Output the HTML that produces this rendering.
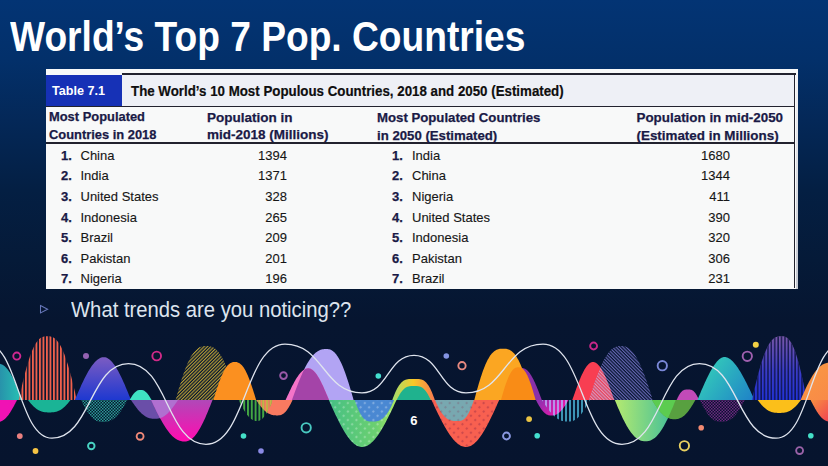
<!DOCTYPE html>
<html><head><meta charset="utf-8"><style>
html,body{margin:0;padding:0;}
body{width:828px;height:466px;overflow:hidden;position:relative;
 background:linear-gradient(180deg,#033474 0px,#03306a 60px,#042858 120px,#041f43 190px,#051a38 260px,#061530 320px,#06142e 466px);
 font-family:"Liberation Sans",sans-serif;}
.t{position:absolute;white-space:nowrap;line-height:1;}
.b{font-weight:bold;}
.title{left:10px;color:#fff;font-size:42px;font-weight:bold;transform-origin:0 0;transform:scaleX(0.8848);}
.photo{position:absolute;left:45.5px;top:68.5px;width:752.5px;height:220px;background:#f8f9f9;}
.nv{color:#1a1a46;-webkit-text-stroke:0.25px #1a1a46;}
.bk{color:#161616;-webkit-text-stroke:0.12px #161616;}
.r{text-align:right;}
.waves{position:absolute;left:0;top:0;}
</style></head><body>
<div class="t title" style="top:16.45px">World’s Top 7 Pop. Countries</div>
<div class="photo"></div>
<div style="position:absolute;left:122px;top:73.3px;width:673.5px;height:1.3px;background:#22222e"></div>
<div style="position:absolute;left:794.2px;top:73.3px;width:1.3px;height:215.2px;background:#22222e"></div>
<div style="position:absolute;left:795.5px;top:74px;width:2.6px;height:214.5px;background:linear-gradient(180deg,#f4f4f6,#c4c8d2)"></div>
<div style="position:absolute;left:46px;top:74.6px;width:76px;height:31.4px;background:#1631b6"></div>
<div style="position:absolute;left:122px;top:74.6px;width:672.2px;height:31.4px;background:#eef0f6"></div>
<div style="position:absolute;left:45.5px;top:105.8px;width:748.7px;height:1.3px;background:#22222e"></div>
<div style="position:absolute;left:45.5px;top:142.3px;width:748.7px;height:1.4px;background:#22222e"></div>
<div class="t b" style="left:52px;top:85.33px;font-size:12.6px;color:#fff">Table 7.1</div>
<div class="t b" style="left:131px;top:84.20px;font-size:14.3px;color:#0e0e0e;-webkit-text-stroke:0.2px #0e0e0e;transform-origin:0 0;transform:scaleX(0.931)">The World’s 10 Most Populous Countries, 2018 and 2050 (Estimated)</div>
<div class="t b nv" style="left:49px;top:111.38px;font-size:12.9px">Most Populated</div>
<div class="t b nv" style="left:49px;top:128.98px;font-size:12.9px">Countries in 2018</div>
<div class="t b nv" style="left:207px;top:110.87px;font-size:13.5px">Population in</div>
<div class="t b nv" style="left:207px;top:128.47px;font-size:13.5px">mid-2018 (Millions)</div>
<div class="t b nv" style="left:377px;top:111.13px;font-size:13.2px">Most Populated Countries</div>
<div class="t b nv" style="left:377px;top:128.73px;font-size:13.2px">in 2050 (Estimated)</div>
<div class="t b nv" style="left:636.5px;top:110.96px;font-size:13.4px">Population in mid-2050</div>
<div class="t b nv" style="left:636.5px;top:128.56px;font-size:13.4px">(Estimated in Millions)</div>
<div class="t b nv" style="left:61px;top:148.80px;font-size:13px">1.</div>
<div class="t bk" style="left:80.5px;top:148.80px;font-size:13px">China</div>
<div class="t bk r" style="right:541.0px;top:148.80px;font-size:13px">1394</div>
<div class="t b nv" style="left:392px;top:148.80px;font-size:13px">1.</div>
<div class="t bk" style="left:412px;top:148.80px;font-size:13px">India</div>
<div class="t bk r" style="right:98.0px;top:148.80px;font-size:13px">1680</div>
<div class="t b nv" style="left:61px;top:169.40px;font-size:13px">2.</div>
<div class="t bk" style="left:80.5px;top:169.40px;font-size:13px">India</div>
<div class="t bk r" style="right:541.0px;top:169.40px;font-size:13px">1371</div>
<div class="t b nv" style="left:392px;top:169.40px;font-size:13px">2.</div>
<div class="t bk" style="left:412px;top:169.40px;font-size:13px">China</div>
<div class="t bk r" style="right:98.0px;top:169.40px;font-size:13px">1344</div>
<div class="t b nv" style="left:61px;top:190.00px;font-size:13px">3.</div>
<div class="t bk" style="left:80.5px;top:190.00px;font-size:13px">United States</div>
<div class="t bk r" style="right:541.0px;top:190.00px;font-size:13px">328</div>
<div class="t b nv" style="left:392px;top:190.00px;font-size:13px">3.</div>
<div class="t bk" style="left:412px;top:190.00px;font-size:13px">Nigeria</div>
<div class="t bk r" style="right:98.0px;top:190.00px;font-size:13px">411</div>
<div class="t b nv" style="left:61px;top:210.60px;font-size:13px">4.</div>
<div class="t bk" style="left:80.5px;top:210.60px;font-size:13px">Indonesia</div>
<div class="t bk r" style="right:541.0px;top:210.60px;font-size:13px">265</div>
<div class="t b nv" style="left:392px;top:210.60px;font-size:13px">4.</div>
<div class="t bk" style="left:412px;top:210.60px;font-size:13px">United States</div>
<div class="t bk r" style="right:98.0px;top:210.60px;font-size:13px">390</div>
<div class="t b nv" style="left:61px;top:231.20px;font-size:13px">5.</div>
<div class="t bk" style="left:80.5px;top:231.20px;font-size:13px">Brazil</div>
<div class="t bk r" style="right:541.0px;top:231.20px;font-size:13px">209</div>
<div class="t b nv" style="left:392px;top:231.20px;font-size:13px">5.</div>
<div class="t bk" style="left:412px;top:231.20px;font-size:13px">Indonesia</div>
<div class="t bk r" style="right:98.0px;top:231.20px;font-size:13px">320</div>
<div class="t b nv" style="left:61px;top:251.80px;font-size:13px">6.</div>
<div class="t bk" style="left:80.5px;top:251.80px;font-size:13px">Pakistan</div>
<div class="t bk r" style="right:541.0px;top:251.80px;font-size:13px">201</div>
<div class="t b nv" style="left:392px;top:251.80px;font-size:13px">6.</div>
<div class="t bk" style="left:412px;top:251.80px;font-size:13px">Pakistan</div>
<div class="t bk r" style="right:98.0px;top:251.80px;font-size:13px">306</div>
<div class="t b nv" style="left:61px;top:272.40px;font-size:13px">7.</div>
<div class="t bk" style="left:80.5px;top:272.40px;font-size:13px">Nigeria</div>
<div class="t bk r" style="right:541.0px;top:272.40px;font-size:13px">196</div>
<div class="t b nv" style="left:392px;top:272.40px;font-size:13px">7.</div>
<div class="t bk" style="left:412px;top:272.40px;font-size:13px">Brazil</div>
<div class="t bk r" style="right:98.0px;top:272.40px;font-size:13px">231</div>
<svg style="position:absolute;left:0;top:0" width="828" height="330"><path d="M40.5,305.5 L47.6,309.2 L40.5,312.9 Z" fill="none" stroke="#6676b8" stroke-width="1.05"/></svg>
<div class="t" style="left:71px;top:299.25px;font-size:22.5px;color:#dde4ee;transform-origin:0 0;transform:scaleX(0.9)">What trends are you noticing??</div>
<svg class="waves" width="828" height="466" viewBox="0 0 828 466"><defs>
 <linearGradient id="gBlueV" x1="0" y1="336" x2="0" y2="400" gradientUnits="userSpaceOnUse"><stop offset="0" stop-color="#7a58a8"/><stop offset="0.55" stop-color="#3a3cc8"/><stop offset="1" stop-color="#2232d8"/></linearGradient>
 <pattern id="vRed" width="3.5" height="8" patternUnits="userSpaceOnUse" x="0.5"><rect x="0" y="0" width="1.9" height="8" fill="#f0604c"/></pattern>
 <pattern id="vBlueGap" width="3.4" height="8" patternUnits="userSpaceOnUse" x="0.3"><rect x="1.9" y="0" width="1.5" height="8" fill="#0a1240" fill-opacity="0.85"/></pattern>
 <pattern id="vGreen" width="3.8" height="8" patternUnits="userSpaceOnUse"><rect x="0" y="0" width="2" height="8" fill="#43a843"/></pattern>
 <pattern id="vGreenO" width="3.8" height="8" patternUnits="userSpaceOnUse"><rect x="0" y="0" width="2" height="8" fill="#c8b048"/></pattern>
 <pattern id="vLBlue" width="4" height="8" patternUnits="userSpaceOnUse" x="1"><rect x="0" y="0" width="2" height="8" fill="#3d94b4"/></pattern>
 <pattern id="vLBlueM" width="4" height="8" patternUnits="userSpaceOnUse" x="1"><rect x="0" y="0" width="2" height="8" fill="#b890e8"/></pattern>
 <pattern id="dYel" width="2.4" height="2.4" patternUnits="userSpaceOnUse" patternTransform="rotate(45)"><rect x="0" y="0" width="1.15" height="2.4" fill="#b49c36"/></pattern>
 <pattern id="dNavy" width="2.4" height="2.4" patternUnits="userSpaceOnUse" patternTransform="rotate(-45)"><rect x="0" y="0" width="1.15" height="2.4" fill="#6666b4"/></pattern>
 <pattern id="dNavyR" width="2.4" height="2.4" patternUnits="userSpaceOnUse" patternTransform="rotate(-45)"><rect x="0" y="0" width="1.15" height="2.4" fill="#f490a8"/></pattern>
 <pattern id="dotTeal" width="3" height="3" patternUnits="userSpaceOnUse"><rect x="0" y="0" width="1.5" height="1.5" fill="#2a9c94"/><rect x="1.5" y="1.5" width="1.5" height="1.5" fill="#2a9c94"/></pattern>
 <pattern id="dotMag" width="3" height="3" patternUnits="userSpaceOnUse"><rect x="0" y="0" width="1.5" height="1.5" fill="#6e2680"/><rect x="1.5" y="1.5" width="1.5" height="1.5" fill="#6e2680"/></pattern>
 <linearGradient id="gTealL" x1="-25" y1="0" x2="22" y2="0" gradientUnits="userSpaceOnUse"><stop offset="0" stop-color="#2a5aa0"/><stop offset="1" stop-color="#26c4b4"/></linearGradient>
 <linearGradient id="gPurBlue" x1="0" y1="357" x2="0" y2="400" gradientUnits="userSpaceOnUse"><stop offset="0" stop-color="#7c5cc2"/><stop offset="1" stop-color="#1e38d0"/></linearGradient>
 <linearGradient id="gMag" x1="0" y1="400" x2="0" y2="441" gradientUnits="userSpaceOnUse"><stop offset="0" stop-color="#b048b8"/><stop offset="1" stop-color="#ff0cb0"/></linearGradient>
 <linearGradient id="gMag2" x1="540" y1="400" x2="560" y2="416" gradientUnits="userSpaceOnUse"><stop offset="0" stop-color="#9030b0"/><stop offset="1" stop-color="#f414aa"/></linearGradient>
 <linearGradient id="gGreenDot" x1="329" y1="0" x2="397" y2="0" gradientUnits="userSpaceOnUse"><stop offset="0" stop-color="#46c084"/><stop offset="0.7" stop-color="#6cd070"/><stop offset="1" stop-color="#b0ec60"/></linearGradient>
 <linearGradient id="gGreenR" x1="615" y1="0" x2="676" y2="0" gradientUnits="userSpaceOnUse"><stop offset="0" stop-color="#b4ea70"/><stop offset="1" stop-color="#3cbc9c"/></linearGradient>
 <linearGradient id="gTealR" x1="700" y1="360" x2="755" y2="400" gradientUnits="userSpaceOnUse"><stop offset="0" stop-color="#36d4b8"/><stop offset="1" stop-color="#1e80c8"/></linearGradient>
 <linearGradient id="gYG" x1="392" y1="0" x2="435" y2="0" gradientUnits="userSpaceOnUse"><stop offset="0" stop-color="#a0e070"/><stop offset="0.5" stop-color="#f8c828"/><stop offset="1" stop-color="#f87850"/></linearGradient>
 <linearGradient id="gCoralR" x1="810" y1="400" x2="830" y2="420" gradientUnits="userSpaceOnUse"><stop offset="0" stop-color="#f89040"/><stop offset="1" stop-color="#f04452"/></linearGradient>
 <linearGradient id="gOrR" x1="800" y1="360" x2="830" y2="400" gradientUnits="userSpaceOnUse"><stop offset="0" stop-color="#fa9a42"/><stop offset="1" stop-color="#f88a48"/></linearGradient>
 <pattern id="dotLight" width="6" height="6" patternUnits="userSpaceOnUse" patternTransform="rotate(45)"><circle cx="3" cy="3" r="1.2" fill="#ffffff" fill-opacity="0.28"/></pattern>
 <pattern id="dotDark" width="6" height="6" patternUnits="userSpaceOnUse" patternTransform="rotate(45)"><circle cx="3" cy="3" r="1.2" fill="#802040" fill-opacity="0.35"/></pattern>
 <clipPath id="cLav"><path d="M292.00,400.00 L292.95,397.34 L293.91,394.70 L294.86,392.09 L295.81,389.52 L296.76,386.99 L297.72,384.51 L298.67,382.08 L299.62,379.72 L300.57,377.42 L301.53,375.20 L302.48,373.05 L303.43,370.99 L304.39,369.00 L305.34,367.11 L306.29,365.31 L307.24,363.60 L308.20,361.98 L309.15,360.46 L310.10,359.04 L311.06,357.72 L312.01,356.50 L312.96,355.38 L313.91,354.36 L314.87,353.44 L315.82,352.61 L316.77,351.88 L317.73,351.24 L318.68,350.69 L319.63,350.23 L320.58,349.85 L321.54,349.55 L322.49,349.32 L323.44,349.16 L324.39,349.06 L325.35,349.01 L326.30,349.00 L327.06,349.01 L327.82,349.06 L328.57,349.16 L329.33,349.32 L330.09,349.55 L330.85,349.85 L331.61,350.23 L332.37,350.69 L333.12,351.24 L333.88,351.88 L334.64,352.61 L335.40,353.44 L336.16,354.36 L336.92,355.38 L337.68,356.50 L338.43,357.72 L339.19,359.04 L339.95,360.46 L340.71,361.98 L341.47,363.60 L342.23,365.31 L342.98,367.11 L343.74,369.00 L344.50,370.99 L345.26,373.05 L346.02,375.20 L346.78,377.42 L347.53,379.72 L348.29,382.08 L349.05,384.51 L349.81,386.99 L350.57,389.52 L351.33,392.09 L352.08,394.70 L352.84,397.34 L353.60,400.00 Z"/></clipPath>
 <clipPath id="cRed"><path d="M572.30,400.00 L572.88,398.34 L573.45,396.69 L574.02,395.04 L574.60,393.40 L575.17,391.78 L575.75,390.16 L576.32,388.57 L576.90,387.00 L577.47,385.46 L578.05,383.94 L578.62,382.45 L579.20,381.00 L579.77,379.58 L580.35,378.20 L580.92,376.87 L581.50,375.57 L582.07,374.33 L582.65,373.13 L583.23,371.98 L583.80,370.89 L584.38,369.85 L584.95,368.87 L585.52,367.95 L586.10,367.09 L586.67,366.29 L587.25,365.56 L587.83,364.89 L588.40,364.29 L588.98,363.76 L589.55,363.29 L590.12,362.90 L590.70,362.58 L591.27,362.33 L591.85,362.14 L592.42,362.04 L593.00,362.00 L593.59,362.04 L594.18,362.14 L594.77,362.33 L595.36,362.58 L595.94,362.90 L596.53,363.29 L597.12,363.76 L597.71,364.29 L598.30,364.89 L598.89,365.56 L599.48,366.29 L600.07,367.09 L600.66,367.95 L601.24,368.87 L601.83,369.85 L602.42,370.89 L603.01,371.98 L603.60,373.13 L604.19,374.33 L604.78,375.57 L605.37,376.87 L605.96,378.20 L606.54,379.58 L607.13,381.00 L607.72,382.45 L608.31,383.94 L608.90,385.46 L609.49,387.00 L610.08,388.57 L610.67,390.16 L611.26,391.78 L611.84,393.40 L612.43,395.04 L613.02,396.69 L613.61,398.34 L614.20,400.00 Z"/></clipPath>
 <clipPath id="cSal"><path d="M256.20,400.00 L256.79,400.87 L257.37,401.73 L257.96,402.58 L258.54,403.41 L259.13,404.22 L259.72,405.01 L260.30,405.78 L260.89,406.53 L261.48,407.25 L262.06,407.94 L262.65,408.61 L263.23,409.24 L263.82,409.84 L264.41,410.41 L264.99,410.95 L265.58,411.46 L266.16,411.93 L266.75,412.37 L267.34,412.78 L267.92,413.15 L268.51,413.49 L269.09,413.80 L269.68,414.07 L270.27,414.32 L270.85,414.54 L271.44,414.73 L272.02,414.89 L272.61,415.02 L273.20,415.13 L273.78,415.22 L274.37,415.29 L274.96,415.34 L275.54,415.37 L276.13,415.39 L276.71,415.40 L277.30,415.40 L277.73,415.40 L278.15,415.39 L278.57,415.37 L279.00,415.34 L279.43,415.29 L279.85,415.22 L280.28,415.13 L280.70,415.02 L281.12,414.89 L281.55,414.73 L281.98,414.54 L282.40,414.32 L282.82,414.07 L283.25,413.80 L283.68,413.49 L284.10,413.15 L284.53,412.78 L284.95,412.37 L285.38,411.93 L285.80,411.46 L286.23,410.95 L286.65,410.41 L287.08,409.84 L287.50,409.24 L287.93,408.61 L288.35,407.94 L288.78,407.25 L289.20,406.53 L289.62,405.78 L290.05,405.01 L290.48,404.22 L290.90,403.41 L291.33,402.58 L291.75,401.73 L292.18,400.87 L292.60,400.00 Z"/></clipPath>
 <clipPath id="cMag2"><path d="M535.90,400.00 L536.33,400.81 L536.76,401.61 L537.18,402.40 L537.61,403.19 L538.04,403.96 L538.47,404.71 L538.89,405.45 L539.32,406.16 L539.75,406.86 L540.18,407.54 L540.61,408.19 L541.03,408.82 L541.46,409.42 L541.89,410.00 L542.32,410.54 L542.74,411.06 L543.17,411.55 L543.60,412.02 L544.03,412.45 L544.46,412.85 L544.88,413.22 L545.31,413.56 L545.74,413.87 L546.17,414.15 L546.59,414.40 L547.02,414.62 L547.45,414.82 L547.88,414.99 L548.31,415.13 L548.73,415.24 L549.16,415.33 L549.59,415.40 L550.02,415.45 L550.44,415.48 L550.87,415.50 L551.30,415.50 L551.78,415.50 L552.26,415.48 L552.73,415.45 L553.21,415.40 L553.69,415.33 L554.17,415.24 L554.64,415.13 L555.12,414.99 L555.60,414.82 L556.08,414.62 L556.56,414.40 L557.03,414.15 L557.51,413.87 L557.99,413.56 L558.47,413.22 L558.94,412.85 L559.42,412.45 L559.90,412.02 L560.38,411.55 L560.86,411.06 L561.33,410.54 L561.81,410.00 L562.29,409.42 L562.77,408.82 L563.24,408.19 L563.72,407.54 L564.20,406.86 L564.68,406.16 L565.16,405.45 L565.63,404.71 L566.11,403.96 L566.59,403.19 L567.07,402.40 L567.54,401.61 L568.02,400.81 L568.50,400.00 Z"/></clipPath>
 <clipPath id="cGbig"><path d="M614.80,400.00 L615.65,402.06 L616.51,404.11 L617.36,406.14 L618.21,408.14 L619.06,410.12 L619.92,412.06 L620.77,413.97 L621.62,415.83 L622.47,417.64 L623.33,419.40 L624.18,421.11 L625.03,422.76 L625.89,424.35 L626.74,425.88 L627.59,427.34 L628.44,428.73 L629.30,430.05 L630.15,431.30 L631.00,432.48 L631.86,433.58 L632.71,434.60 L633.56,435.54 L634.41,436.41 L635.27,437.20 L636.12,437.92 L636.97,438.56 L637.83,439.12 L638.68,439.61 L639.53,440.03 L640.38,440.38 L641.24,440.66 L642.09,440.88 L642.94,441.03 L643.79,441.13 L644.65,441.19 L645.50,441.20 L646.34,441.19 L647.18,441.13 L648.02,441.03 L648.86,440.88 L649.69,440.66 L650.53,440.38 L651.37,440.03 L652.21,439.61 L653.05,439.12 L653.89,438.56 L654.73,437.92 L655.57,437.20 L656.41,436.41 L657.24,435.54 L658.08,434.60 L658.92,433.58 L659.76,432.48 L660.60,431.30 L661.44,430.05 L662.28,428.73 L663.12,427.34 L663.96,425.88 L664.79,424.35 L665.63,422.76 L666.47,421.11 L667.31,419.40 L668.15,417.64 L668.99,415.83 L669.83,413.97 L670.67,412.06 L671.51,410.12 L672.34,408.14 L673.18,406.14 L674.02,404.11 L674.86,402.06 L675.70,400.00 Z"/></clipPath>
 <clipPath id="cPur"><path d="M131.00,400.00 L131.66,400.98 L132.32,401.95 L132.97,402.92 L133.63,403.86 L134.29,404.80 L134.95,405.71 L135.61,406.60 L136.27,407.48 L136.93,408.32 L137.58,409.14 L138.24,409.93 L138.90,410.70 L139.56,411.43 L140.22,412.12 L140.88,412.79 L141.53,413.42 L142.19,414.01 L142.85,414.57 L143.51,415.10 L144.17,415.58 L144.82,416.03 L145.48,416.45 L146.14,416.82 L146.80,417.16 L147.46,417.47 L148.12,417.74 L148.77,417.97 L149.43,418.18 L150.09,418.35 L150.75,418.49 L151.41,418.60 L152.07,418.68 L152.72,418.74 L153.38,418.78 L154.04,418.80 L154.70,418.80 L155.35,418.80 L155.99,418.78 L156.64,418.74 L157.29,418.68 L157.94,418.60 L158.58,418.49 L159.23,418.35 L159.88,418.18 L160.52,417.97 L161.17,417.74 L161.82,417.47 L162.47,417.16 L163.11,416.82 L163.76,416.45 L164.41,416.03 L165.06,415.58 L165.70,415.10 L166.35,414.57 L167.00,414.01 L167.64,413.42 L168.29,412.79 L168.94,412.12 L169.59,411.43 L170.23,410.70 L170.88,409.93 L171.53,409.14 L172.18,408.32 L172.82,407.48 L173.47,406.60 L174.12,405.71 L174.76,404.80 L175.41,403.86 L176.06,402.92 L176.71,401.95 L177.35,400.98 L178.00,400.00 Z"/></clipPath>
</defs>
<path d="M-28.00,400.00 L-27.31,398.17 L-26.61,396.35 L-25.92,394.55 L-25.22,392.77 L-24.53,391.01 L-23.83,389.28 L-23.14,387.59 L-22.44,385.94 L-21.75,384.33 L-21.06,382.76 L-20.36,381.24 L-19.67,379.78 L-18.97,378.36 L-18.28,377.01 L-17.58,375.71 L-16.89,374.47 L-16.19,373.30 L-15.50,372.19 L-14.81,371.15 L-14.11,370.17 L-13.42,369.26 L-12.72,368.42 L-12.03,367.65 L-11.33,366.95 L-10.64,366.31 L-9.94,365.75 L-9.25,365.25 L-8.56,364.81 L-7.86,364.44 L-7.17,364.13 L-6.47,363.88 L-5.78,363.69 L-5.08,363.55 L-4.39,363.46 L-3.69,363.41 L-3.00,363.40 L-2.30,363.41 L-1.59,363.46 L-0.89,363.55 L-0.19,363.69 L0.51,363.88 L1.22,364.13 L1.92,364.44 L2.62,364.81 L3.33,365.25 L4.03,365.75 L4.73,366.31 L5.43,366.95 L6.14,367.65 L6.84,368.42 L7.54,369.26 L8.24,370.17 L8.95,371.15 L9.65,372.19 L10.35,373.30 L11.06,374.47 L11.76,375.71 L12.46,377.01 L13.16,378.36 L13.87,379.78 L14.57,381.24 L15.27,382.76 L15.98,384.33 L16.68,385.94 L17.38,387.59 L18.08,389.28 L18.79,391.01 L19.49,392.77 L20.19,394.55 L20.89,396.35 L21.60,398.17 L22.30,400.00 Z" fill="url(#gTealL)" />
<path d="M18.75,400.00 L19.54,396.40 L20.33,392.84 L21.12,389.33 L21.91,385.89 L22.70,382.52 L23.49,379.24 L24.28,376.04 L25.07,372.95 L25.86,369.97 L26.65,367.10 L27.44,364.35 L28.23,361.72 L29.02,359.22 L29.81,356.85 L30.60,354.62 L31.39,352.53 L32.18,350.57 L32.98,348.75 L33.77,347.07 L34.56,345.52 L35.35,344.11 L36.14,342.84 L36.93,341.69 L37.72,340.67 L38.51,339.77 L39.30,339.00 L40.09,338.33 L40.88,337.77 L41.67,337.31 L42.46,336.94 L43.25,336.66 L44.04,336.46 L44.83,336.32 L45.62,336.24 L46.41,336.21 L47.20,336.20 L48.02,336.21 L48.84,336.24 L49.67,336.32 L50.49,336.46 L51.31,336.66 L52.13,336.94 L52.96,337.31 L53.78,337.77 L54.60,338.33 L55.42,339.00 L56.24,339.77 L57.07,340.67 L57.89,341.69 L58.71,342.84 L59.53,344.11 L60.36,345.52 L61.18,347.07 L62.00,348.75 L62.82,350.57 L63.64,352.53 L64.47,354.62 L65.29,356.85 L66.11,359.22 L66.93,361.72 L67.76,364.35 L68.58,367.10 L69.40,369.97 L70.22,372.95 L71.04,376.04 L71.87,379.24 L72.69,382.52 L73.51,385.89 L74.33,389.33 L75.16,392.84 L75.98,396.40 L76.80,400.00 Z" fill="url(#vRed)" />
<path d="M74.80,400.00 L75.61,398.13 L76.41,396.27 L77.22,394.41 L78.02,392.57 L78.83,390.74 L79.63,388.92 L80.44,387.13 L81.24,385.36 L82.05,383.62 L82.86,381.91 L83.66,380.24 L84.47,378.60 L85.27,377.00 L86.08,375.45 L86.88,373.95 L87.69,372.49 L88.49,371.08 L89.30,369.74 L90.11,368.44 L90.91,367.21 L91.72,366.04 L92.52,364.94 L93.33,363.90 L94.13,362.93 L94.94,362.04 L95.74,361.21 L96.55,360.46 L97.36,359.78 L98.16,359.18 L98.97,358.66 L99.77,358.21 L100.58,357.85 L101.38,357.57 L102.19,357.36 L102.99,357.24 L103.80,357.20 L104.56,357.24 L105.31,357.36 L106.07,357.57 L106.82,357.85 L107.58,358.21 L108.33,358.66 L109.09,359.18 L109.84,359.78 L110.60,360.46 L111.36,361.21 L112.11,362.04 L112.87,362.93 L113.62,363.90 L114.38,364.94 L115.13,366.04 L115.89,367.21 L116.64,368.44 L117.40,369.74 L118.16,371.08 L118.91,372.49 L119.67,373.95 L120.42,375.45 L121.18,377.00 L121.93,378.60 L122.69,380.24 L123.44,381.91 L124.20,383.62 L124.96,385.36 L125.71,387.13 L126.47,388.92 L127.22,390.74 L127.98,392.57 L128.73,394.41 L129.49,396.27 L130.24,398.13 L131.00,400.00 Z" fill="url(#gPurBlue)" />
<path d="M129.60,400.00 L129.91,399.47 L130.21,398.95 L130.52,398.43 L130.82,397.92 L131.13,397.42 L131.43,396.93 L131.74,396.45 L132.04,395.98 L132.35,395.53 L132.66,395.09 L132.96,394.66 L133.27,394.25 L133.57,393.86 L133.88,393.49 L134.18,393.13 L134.49,392.79 L134.79,392.47 L135.10,392.17 L135.41,391.89 L135.71,391.63 L136.02,391.39 L136.32,391.16 L136.63,390.96 L136.93,390.78 L137.24,390.62 L137.54,390.47 L137.85,390.34 L138.16,390.24 L138.46,390.14 L138.77,390.07 L139.07,390.01 L139.38,389.96 L139.68,389.93 L139.99,389.91 L140.29,389.90 L140.60,389.90 L140.91,389.90 L141.21,389.91 L141.52,389.93 L141.82,389.96 L142.13,390.01 L142.43,390.07 L142.74,390.14 L143.04,390.24 L143.35,390.34 L143.66,390.47 L143.96,390.62 L144.27,390.78 L144.57,390.96 L144.88,391.16 L145.18,391.39 L145.49,391.63 L145.79,391.89 L146.10,392.17 L146.41,392.47 L146.71,392.79 L147.02,393.13 L147.32,393.49 L147.63,393.86 L147.93,394.25 L148.24,394.66 L148.54,395.09 L148.85,395.53 L149.16,395.98 L149.46,396.45 L149.77,396.93 L150.07,397.42 L150.38,397.92 L150.68,398.43 L150.99,398.95 L151.29,399.47 L151.60,400.00 Z" fill="#3fe2c2" />
<path d="M175.60,400.00 L176.45,396.95 L177.30,393.94 L178.15,390.97 L179.00,388.06 L179.85,385.21 L180.70,382.43 L181.55,379.72 L182.40,377.11 L183.25,374.58 L184.10,372.15 L184.95,369.82 L185.80,367.60 L186.65,365.48 L187.50,363.48 L188.35,361.59 L189.20,359.82 L190.05,358.16 L190.90,356.62 L191.75,355.20 L192.60,353.89 L193.45,352.70 L194.30,351.62 L195.15,350.65 L196.00,349.78 L196.85,349.03 L197.70,348.37 L198.55,347.80 L199.40,347.33 L200.25,346.94 L201.10,346.63 L201.95,346.39 L202.80,346.22 L203.65,346.10 L204.50,346.04 L205.35,346.01 L206.20,346.00 L207.05,346.01 L207.90,346.04 L208.75,346.10 L209.60,346.22 L210.45,346.39 L211.30,346.63 L212.15,346.94 L213.00,347.33 L213.85,347.80 L214.70,348.37 L215.55,349.03 L216.40,349.78 L217.25,350.65 L218.10,351.62 L218.95,352.70 L219.80,353.89 L220.65,355.20 L221.50,356.62 L222.35,358.16 L223.20,359.82 L224.05,361.59 L224.90,363.48 L225.75,365.48 L226.60,367.60 L227.45,369.82 L228.30,372.15 L229.15,374.58 L230.00,377.11 L230.85,379.72 L231.70,382.43 L232.55,385.21 L233.40,388.06 L234.25,390.97 L235.10,393.94 L235.95,396.95 L236.80,400.00 Z" fill="url(#dYel)" />
<path d="M213.50,400.00 L214.09,398.02 L214.68,396.05 L215.28,394.11 L215.87,392.19 L216.46,390.30 L217.05,388.46 L217.64,386.65 L218.23,384.89 L218.82,383.18 L219.42,381.52 L220.01,379.92 L220.60,378.38 L221.19,376.90 L221.78,375.49 L222.38,374.15 L222.97,372.88 L223.56,371.67 L224.15,370.54 L224.74,369.48 L225.33,368.50 L225.93,367.59 L226.52,366.76 L227.11,366.00 L227.70,365.31 L228.29,364.69 L228.88,364.15 L229.48,363.67 L230.07,363.26 L230.66,362.92 L231.25,362.63 L231.84,362.41 L232.43,362.24 L233.03,362.12 L233.62,362.05 L234.21,362.01 L234.80,362.00 L235.39,362.01 L235.98,362.05 L236.58,362.12 L237.17,362.24 L237.76,362.41 L238.35,362.63 L238.94,362.92 L239.53,363.26 L240.12,363.67 L240.72,364.15 L241.31,364.69 L241.90,365.31 L242.49,366.00 L243.08,366.76 L243.68,367.59 L244.27,368.50 L244.86,369.48 L245.45,370.54 L246.04,371.67 L246.63,372.88 L247.23,374.15 L247.82,375.49 L248.41,376.90 L249.00,378.38 L249.59,379.92 L250.18,381.52 L250.78,383.18 L251.37,384.89 L251.96,386.65 L252.55,388.46 L253.14,390.30 L253.73,392.19 L254.33,394.11 L254.92,396.05 L255.51,398.02 L256.10,400.00 Z" fill="#fb9020" />
<path d="M292.00,400.00 L292.95,397.34 L293.91,394.70 L294.86,392.09 L295.81,389.52 L296.76,386.99 L297.72,384.51 L298.67,382.08 L299.62,379.72 L300.57,377.42 L301.53,375.20 L302.48,373.05 L303.43,370.99 L304.39,369.00 L305.34,367.11 L306.29,365.31 L307.24,363.60 L308.20,361.98 L309.15,360.46 L310.10,359.04 L311.06,357.72 L312.01,356.50 L312.96,355.38 L313.91,354.36 L314.87,353.44 L315.82,352.61 L316.77,351.88 L317.73,351.24 L318.68,350.69 L319.63,350.23 L320.58,349.85 L321.54,349.55 L322.49,349.32 L323.44,349.16 L324.39,349.06 L325.35,349.01 L326.30,349.00 L327.06,349.01 L327.82,349.06 L328.57,349.16 L329.33,349.32 L330.09,349.55 L330.85,349.85 L331.61,350.23 L332.37,350.69 L333.12,351.24 L333.88,351.88 L334.64,352.61 L335.40,353.44 L336.16,354.36 L336.92,355.38 L337.68,356.50 L338.43,357.72 L339.19,359.04 L339.95,360.46 L340.71,361.98 L341.47,363.60 L342.23,365.31 L342.98,367.11 L343.74,369.00 L344.50,370.99 L345.26,373.05 L346.02,375.20 L346.78,377.42 L347.53,379.72 L348.29,382.08 L349.05,384.51 L349.81,386.99 L350.57,389.52 L351.33,392.09 L352.08,394.70 L352.84,397.34 L353.60,400.00 Z" fill="#b2a4f4" />
<path d="M285.60,400.00 L286.23,398.62 L286.86,397.24 L287.49,395.86 L288.12,394.50 L288.75,393.14 L289.38,391.80 L290.01,390.47 L290.64,389.16 L291.28,387.87 L291.91,386.60 L292.54,385.36 L293.17,384.15 L293.80,382.97 L294.43,381.82 L295.06,380.70 L295.69,379.62 L296.32,378.58 L296.95,377.58 L297.58,376.63 L298.21,375.72 L298.84,374.85 L299.47,374.03 L300.10,373.26 L300.73,372.55 L301.36,371.88 L301.99,371.27 L302.62,370.71 L303.26,370.21 L303.89,369.77 L304.52,369.38 L305.15,369.05 L305.78,368.78 L306.41,368.57 L307.04,368.42 L307.67,368.33 L308.30,368.30 L308.88,368.33 L309.45,368.42 L310.03,368.57 L310.60,368.78 L311.18,369.05 L311.75,369.38 L312.32,369.77 L312.90,370.21 L313.48,370.71 L314.05,371.27 L314.62,371.88 L315.20,372.55 L315.78,373.26 L316.35,374.03 L316.93,374.85 L317.50,375.72 L318.07,376.63 L318.65,377.58 L319.23,378.58 L319.80,379.62 L320.38,380.70 L320.95,381.82 L321.52,382.97 L322.10,384.15 L322.68,385.36 L323.25,386.60 L323.82,387.87 L324.40,389.16 L324.98,390.47 L325.55,391.80 L326.12,393.14 L326.70,394.50 L327.27,395.86 L327.85,397.24 L328.43,398.62 L329.00,400.00 Z" fill="#f474c8" />
<path d="M285.60,400.00 L286.23,398.62 L286.86,397.24 L287.49,395.86 L288.12,394.50 L288.75,393.14 L289.38,391.80 L290.01,390.47 L290.64,389.16 L291.28,387.87 L291.91,386.60 L292.54,385.36 L293.17,384.15 L293.80,382.97 L294.43,381.82 L295.06,380.70 L295.69,379.62 L296.32,378.58 L296.95,377.58 L297.58,376.63 L298.21,375.72 L298.84,374.85 L299.47,374.03 L300.10,373.26 L300.73,372.55 L301.36,371.88 L301.99,371.27 L302.62,370.71 L303.26,370.21 L303.89,369.77 L304.52,369.38 L305.15,369.05 L305.78,368.78 L306.41,368.57 L307.04,368.42 L307.67,368.33 L308.30,368.30 L308.88,368.33 L309.45,368.42 L310.03,368.57 L310.60,368.78 L311.18,369.05 L311.75,369.38 L312.32,369.77 L312.90,370.21 L313.48,370.71 L314.05,371.27 L314.62,371.88 L315.20,372.55 L315.78,373.26 L316.35,374.03 L316.93,374.85 L317.50,375.72 L318.07,376.63 L318.65,377.58 L319.23,378.58 L319.80,379.62 L320.38,380.70 L320.95,381.82 L321.52,382.97 L322.10,384.15 L322.68,385.36 L323.25,386.60 L323.82,387.87 L324.40,389.16 L324.98,390.47 L325.55,391.80 L326.12,393.14 L326.70,394.50 L327.27,395.86 L327.85,397.24 L328.43,398.62 L329.00,400.00 Z" fill="#a444a8" clip-path="url(#cLav)"/>
<path d="M392.30,400.00 L392.91,398.36 L393.51,396.77 L394.12,395.24 L394.72,393.76 L395.33,392.36 L395.93,391.02 L396.54,389.77 L397.14,388.59 L397.75,387.49 L398.36,386.47 L398.96,385.53 L399.57,384.66 L400.17,383.88 L400.78,383.17 L401.38,382.53 L401.99,381.96 L402.59,381.45 L403.20,381.01 L403.81,380.62 L404.41,380.29 L405.02,380.00 L405.62,379.76 L406.23,379.56 L406.83,379.40 L407.44,379.26 L408.04,379.16 L408.65,379.08 L409.26,379.02 L409.86,378.97 L410.47,378.94 L411.07,378.92 L411.68,378.91 L412.28,378.90 L412.89,378.90 L413.49,378.90 L414.10,378.90 L414.68,378.90 L415.25,378.90 L415.83,378.90 L416.40,378.91 L416.98,378.92 L417.55,378.94 L418.12,378.97 L418.70,379.02 L419.28,379.08 L419.85,379.16 L420.43,379.26 L421.00,379.40 L421.58,379.56 L422.15,379.76 L422.73,380.00 L423.30,380.29 L423.88,380.62 L424.45,381.01 L425.03,381.45 L425.60,381.96 L426.18,382.53 L426.75,383.17 L427.32,383.88 L427.90,384.66 L428.48,385.53 L429.05,386.47 L429.62,387.49 L430.20,388.59 L430.78,389.77 L431.35,391.02 L431.93,392.36 L432.50,393.76 L433.07,395.24 L433.65,396.77 L434.23,398.36 L434.80,400.00 Z" fill="url(#gYG)" />
<path d="M396.70,400.00 L397.18,399.03 L397.67,398.08 L398.15,397.16 L398.63,396.27 L399.12,395.41 L399.60,394.58 L400.08,393.79 L400.57,393.04 L401.05,392.33 L401.53,391.67 L402.02,391.04 L402.50,390.46 L402.98,389.92 L403.47,389.42 L403.95,388.97 L404.43,388.55 L404.92,388.18 L405.40,387.84 L405.88,387.54 L406.37,387.27 L406.85,387.04 L407.33,386.83 L407.82,386.66 L408.30,386.51 L408.78,386.39 L409.27,386.29 L409.75,386.20 L410.23,386.14 L410.72,386.09 L411.20,386.06 L411.68,386.03 L412.17,386.02 L412.65,386.01 L413.13,386.00 L413.62,386.00 L414.10,386.00 L414.56,386.00 L415.03,386.00 L415.49,386.01 L415.96,386.02 L416.42,386.03 L416.88,386.06 L417.35,386.09 L417.81,386.14 L418.28,386.20 L418.74,386.29 L419.20,386.39 L419.67,386.51 L420.13,386.66 L420.59,386.83 L421.06,387.04 L421.52,387.27 L421.99,387.54 L422.45,387.84 L422.91,388.18 L423.38,388.55 L423.84,388.97 L424.31,389.42 L424.77,389.92 L425.23,390.46 L425.70,391.04 L426.16,391.67 L426.62,392.33 L427.09,393.04 L427.55,393.79 L428.02,394.58 L428.48,395.41 L428.94,396.27 L429.41,397.16 L429.87,398.08 L430.34,399.03 L430.80,400.00 Z" fill="#1fb28e" />
<path d="M505.00,400.00 L505.46,398.47 L505.92,396.94 L506.38,395.43 L506.83,393.93 L507.29,392.45 L507.75,390.99 L508.21,389.56 L508.67,388.15 L509.12,386.77 L509.58,385.43 L510.04,384.13 L510.50,382.86 L510.96,381.64 L511.42,380.46 L511.88,379.32 L512.33,378.24 L512.79,377.20 L513.25,376.21 L513.71,375.28 L514.17,374.40 L514.62,373.58 L515.08,372.82 L515.54,372.11 L516.00,371.46 L516.46,370.86 L516.92,370.33 L517.38,369.85 L517.83,369.43 L518.29,369.07 L518.75,368.76 L519.21,368.51 L519.67,368.31 L520.12,368.17 L520.58,368.07 L521.04,368.01 L521.50,368.00 L522.06,368.01 L522.63,368.07 L523.19,368.17 L523.76,368.31 L524.32,368.51 L524.88,368.76 L525.45,369.07 L526.01,369.43 L526.58,369.85 L527.14,370.33 L527.70,370.86 L528.27,371.46 L528.83,372.11 L529.39,372.82 L529.96,373.58 L530.52,374.40 L531.09,375.28 L531.65,376.21 L532.21,377.20 L532.78,378.24 L533.34,379.32 L533.91,380.46 L534.47,381.64 L535.03,382.86 L535.60,384.13 L536.16,385.43 L536.72,386.77 L537.29,388.15 L537.85,389.56 L538.42,390.99 L538.98,392.45 L539.54,393.93 L540.11,395.43 L540.67,396.94 L541.24,398.47 L541.80,400.00 Z" fill="#8a30a8" />
<path d="M474.30,400.00 L475.10,396.99 L475.89,394.03 L476.69,391.11 L477.49,388.26 L478.29,385.47 L479.08,382.76 L479.88,380.13 L480.68,377.60 L481.48,375.16 L482.27,372.82 L483.07,370.58 L483.87,368.46 L484.66,366.45 L485.46,364.55 L486.26,362.77 L487.06,361.11 L487.85,359.56 L488.65,358.14 L489.45,356.82 L490.24,355.62 L491.04,354.54 L491.84,353.56 L492.64,352.69 L493.43,351.92 L494.23,351.26 L495.03,350.68 L495.82,350.19 L496.62,349.79 L497.42,349.46 L498.22,349.20 L499.01,349.01 L499.81,348.87 L500.61,348.78 L501.41,348.73 L502.20,348.70 L503.00,348.70 L503.80,348.70 L504.59,348.73 L505.39,348.78 L506.19,348.87 L506.99,349.01 L507.78,349.20 L508.58,349.46 L509.38,349.79 L510.18,350.19 L510.97,350.68 L511.77,351.26 L512.57,351.92 L513.36,352.69 L514.16,353.56 L514.96,354.54 L515.76,355.62 L516.55,356.82 L517.35,358.14 L518.15,359.56 L518.94,361.11 L519.74,362.77 L520.54,364.55 L521.34,366.45 L522.13,368.46 L522.93,370.58 L523.73,372.82 L524.53,375.16 L525.32,377.60 L526.12,380.13 L526.92,382.76 L527.71,385.47 L528.51,388.26 L529.31,391.11 L530.11,394.03 L530.90,396.99 L531.70,400.00 Z" fill="#fba622" />
<path d="M501.00,400.00 L501.48,398.29 L501.96,396.60 L502.44,394.93 L502.92,393.28 L503.40,391.66 L503.88,390.07 L504.36,388.51 L504.84,387.00 L505.32,385.52 L505.81,384.10 L506.29,382.72 L506.77,381.40 L507.25,380.13 L507.73,378.91 L508.21,377.76 L508.69,376.66 L509.17,375.62 L509.65,374.65 L510.13,373.74 L510.61,372.89 L511.09,372.11 L511.57,371.39 L512.05,370.74 L512.53,370.15 L513.01,369.62 L513.49,369.15 L513.97,368.74 L514.46,368.39 L514.94,368.09 L515.42,367.85 L515.90,367.65 L516.38,367.51 L516.86,367.40 L517.34,367.34 L517.82,367.31 L518.30,367.30 L518.78,367.31 L519.26,367.34 L519.74,367.40 L520.22,367.51 L520.70,367.65 L521.18,367.85 L521.66,368.09 L522.14,368.39 L522.62,368.74 L523.11,369.15 L523.59,369.62 L524.07,370.15 L524.55,370.74 L525.03,371.39 L525.51,372.11 L525.99,372.89 L526.47,373.74 L526.95,374.65 L527.43,375.62 L527.91,376.66 L528.39,377.76 L528.87,378.91 L529.35,380.13 L529.83,381.40 L530.31,382.72 L530.79,384.10 L531.27,385.52 L531.76,387.00 L532.24,388.51 L532.72,390.07 L533.20,391.66 L533.68,393.28 L534.16,394.93 L534.64,396.60 L535.12,398.29 L535.60,400.00 Z" fill="#f98c16" />
<path d="M572.30,400.00 L572.88,398.34 L573.45,396.69 L574.02,395.04 L574.60,393.40 L575.17,391.78 L575.75,390.16 L576.32,388.57 L576.90,387.00 L577.47,385.46 L578.05,383.94 L578.62,382.45 L579.20,381.00 L579.77,379.58 L580.35,378.20 L580.92,376.87 L581.50,375.57 L582.07,374.33 L582.65,373.13 L583.23,371.98 L583.80,370.89 L584.38,369.85 L584.95,368.87 L585.52,367.95 L586.10,367.09 L586.67,366.29 L587.25,365.56 L587.83,364.89 L588.40,364.29 L588.98,363.76 L589.55,363.29 L590.12,362.90 L590.70,362.58 L591.27,362.33 L591.85,362.14 L592.42,362.04 L593.00,362.00 L593.59,362.04 L594.18,362.14 L594.77,362.33 L595.36,362.58 L595.94,362.90 L596.53,363.29 L597.12,363.76 L597.71,364.29 L598.30,364.89 L598.89,365.56 L599.48,366.29 L600.07,367.09 L600.66,367.95 L601.24,368.87 L601.83,369.85 L602.42,370.89 L603.01,371.98 L603.60,373.13 L604.19,374.33 L604.78,375.57 L605.37,376.87 L605.96,378.20 L606.54,379.58 L607.13,381.00 L607.72,382.45 L608.31,383.94 L608.90,385.46 L609.49,387.00 L610.08,388.57 L610.67,390.16 L611.26,391.78 L611.84,393.40 L612.43,395.04 L613.02,396.69 L613.61,398.34 L614.20,400.00 Z" fill="#f83e52" />
<path d="M589.00,400.00 L589.89,397.18 L590.77,394.39 L591.66,391.62 L592.54,388.90 L593.43,386.22 L594.32,383.60 L595.20,381.03 L596.09,378.53 L596.98,376.10 L597.86,373.74 L598.75,371.47 L599.63,369.28 L600.52,367.18 L601.41,365.17 L602.29,363.27 L603.18,361.45 L604.06,359.74 L604.95,358.14 L605.84,356.64 L606.72,355.24 L607.61,353.95 L608.49,352.76 L609.38,351.68 L610.27,350.70 L611.15,349.82 L612.04,349.05 L612.92,348.37 L613.81,347.79 L614.70,347.30 L615.58,346.90 L616.47,346.58 L617.36,346.34 L618.24,346.17 L619.13,346.06 L620.01,346.01 L620.90,346.00 L621.79,346.01 L622.67,346.06 L623.56,346.17 L624.44,346.34 L625.33,346.58 L626.22,346.90 L627.10,347.30 L627.99,347.79 L628.88,348.37 L629.76,349.05 L630.65,349.82 L631.53,350.70 L632.42,351.68 L633.31,352.76 L634.19,353.95 L635.08,355.24 L635.96,356.64 L636.85,358.14 L637.74,359.74 L638.62,361.45 L639.51,363.27 L640.39,365.17 L641.28,367.18 L642.17,369.28 L643.05,371.47 L643.94,373.74 L644.82,376.10 L645.71,378.53 L646.60,381.03 L647.48,383.60 L648.37,386.22 L649.26,388.90 L650.14,391.62 L651.03,394.39 L651.91,397.18 L652.80,400.00 Z" fill="url(#dNavy)" />
<path d="M589.00,400.00 L589.89,397.18 L590.77,394.39 L591.66,391.62 L592.54,388.90 L593.43,386.22 L594.32,383.60 L595.20,381.03 L596.09,378.53 L596.98,376.10 L597.86,373.74 L598.75,371.47 L599.63,369.28 L600.52,367.18 L601.41,365.17 L602.29,363.27 L603.18,361.45 L604.06,359.74 L604.95,358.14 L605.84,356.64 L606.72,355.24 L607.61,353.95 L608.49,352.76 L609.38,351.68 L610.27,350.70 L611.15,349.82 L612.04,349.05 L612.92,348.37 L613.81,347.79 L614.70,347.30 L615.58,346.90 L616.47,346.58 L617.36,346.34 L618.24,346.17 L619.13,346.06 L620.01,346.01 L620.90,346.00 L621.79,346.01 L622.67,346.06 L623.56,346.17 L624.44,346.34 L625.33,346.58 L626.22,346.90 L627.10,347.30 L627.99,347.79 L628.88,348.37 L629.76,349.05 L630.65,349.82 L631.53,350.70 L632.42,351.68 L633.31,352.76 L634.19,353.95 L635.08,355.24 L635.96,356.64 L636.85,358.14 L637.74,359.74 L638.62,361.45 L639.51,363.27 L640.39,365.17 L641.28,367.18 L642.17,369.28 L643.05,371.47 L643.94,373.74 L644.82,376.10 L645.71,378.53 L646.60,381.03 L647.48,383.60 L648.37,386.22 L649.26,388.90 L650.14,391.62 L651.03,394.39 L651.91,397.18 L652.80,400.00 Z" fill="url(#dNavyR)" clip-path="url(#cRed)"/>
<path d="M676.60,400.00 L676.91,399.32 L677.23,398.65 L677.54,397.99 L677.86,397.36 L678.17,396.74 L678.48,396.15 L678.80,395.57 L679.11,395.03 L679.42,394.51 L679.74,394.01 L680.05,393.55 L680.37,393.11 L680.68,392.70 L680.99,392.32 L681.31,391.97 L681.62,391.64 L681.94,391.35 L682.25,391.08 L682.56,390.83 L682.88,390.62 L683.19,390.42 L683.51,390.25 L683.82,390.10 L684.13,389.98 L684.45,389.87 L684.76,389.78 L685.08,389.70 L685.39,389.64 L685.70,389.60 L686.02,389.56 L686.33,389.53 L686.64,389.52 L686.96,389.51 L687.27,389.50 L687.59,389.50 L687.90,389.50 L688.21,389.50 L688.52,389.50 L688.82,389.51 L689.13,389.52 L689.44,389.53 L689.75,389.56 L690.06,389.60 L690.37,389.64 L690.67,389.70 L690.98,389.78 L691.29,389.87 L691.60,389.98 L691.91,390.10 L692.22,390.25 L692.52,390.42 L692.83,390.62 L693.14,390.83 L693.45,391.08 L693.76,391.35 L694.07,391.64 L694.38,391.97 L694.68,392.32 L694.99,392.70 L695.30,393.11 L695.61,393.55 L695.92,394.01 L696.23,394.51 L696.53,395.03 L696.84,395.57 L697.15,396.15 L697.46,396.74 L697.77,397.36 L698.08,397.99 L698.38,398.65 L698.69,399.32 L699.00,400.00 Z" fill="#c24ab8" />
<path d="M697.40,400.00 L698.15,398.22 L698.91,396.43 L699.66,394.66 L700.41,392.88 L701.16,391.12 L701.92,389.37 L702.67,387.63 L703.42,385.92 L704.17,384.23 L704.93,382.56 L705.68,380.91 L706.43,379.30 L707.19,377.73 L707.94,376.19 L708.69,374.69 L709.44,373.23 L710.20,371.81 L710.95,370.45 L711.70,369.13 L712.46,367.87 L713.21,366.67 L713.96,365.52 L714.71,364.43 L715.47,363.41 L716.22,362.46 L716.97,361.57 L717.73,360.75 L718.48,360.01 L719.23,359.34 L719.98,358.75 L720.74,358.24 L721.49,357.81 L722.24,357.47 L722.99,357.22 L723.75,357.06 L724.50,357.00 L725.34,357.06 L726.17,357.22 L727.01,357.47 L727.84,357.81 L728.68,358.24 L729.52,358.75 L730.35,359.34 L731.19,360.01 L732.02,360.75 L732.86,361.57 L733.70,362.46 L734.53,363.41 L735.37,364.43 L736.21,365.52 L737.04,366.67 L737.88,367.87 L738.71,369.13 L739.55,370.45 L740.39,371.81 L741.22,373.23 L742.06,374.69 L742.89,376.19 L743.73,377.73 L744.57,379.30 L745.40,380.91 L746.24,382.56 L747.08,384.23 L747.91,385.92 L748.75,387.63 L749.58,389.37 L750.42,391.12 L751.26,392.88 L752.09,394.66 L752.93,396.43 L753.76,398.22 L754.60,400.00 Z" fill="url(#gTealR)" />
<path d="M752.00,400.00 L752.81,396.40 L753.63,392.84 L754.44,389.33 L755.26,385.89 L756.07,382.52 L756.88,379.24 L757.70,376.04 L758.51,372.95 L759.33,369.97 L760.14,367.10 L760.95,364.35 L761.77,361.72 L762.58,359.22 L763.39,356.85 L764.21,354.62 L765.02,352.53 L765.84,350.57 L766.65,348.75 L767.46,347.07 L768.28,345.52 L769.09,344.11 L769.91,342.84 L770.72,341.69 L771.53,340.67 L772.35,339.77 L773.16,339.00 L773.97,338.33 L774.79,337.77 L775.60,337.31 L776.42,336.94 L777.23,336.66 L778.04,336.46 L778.86,336.32 L779.67,336.24 L780.49,336.21 L781.30,336.20 L782.01,336.21 L782.72,336.24 L783.42,336.32 L784.13,336.46 L784.84,336.66 L785.55,336.94 L786.26,337.31 L786.97,337.77 L787.67,338.33 L788.38,339.00 L789.09,339.77 L789.80,340.67 L790.51,341.69 L791.22,342.84 L791.92,344.11 L792.63,345.52 L793.34,347.07 L794.05,348.75 L794.76,350.57 L795.47,352.53 L796.17,354.62 L796.88,356.85 L797.59,359.22 L798.30,361.72 L799.01,364.35 L799.72,367.10 L800.42,369.97 L801.13,372.95 L801.84,376.04 L802.55,379.24 L803.26,382.52 L803.97,385.89 L804.67,389.33 L805.38,392.84 L806.09,396.40 L806.80,400.00 Z" fill="url(#gBlueV)" />
<path d="M752.00,400.00 L752.81,396.40 L753.63,392.84 L754.44,389.33 L755.26,385.89 L756.07,382.52 L756.88,379.24 L757.70,376.04 L758.51,372.95 L759.33,369.97 L760.14,367.10 L760.95,364.35 L761.77,361.72 L762.58,359.22 L763.39,356.85 L764.21,354.62 L765.02,352.53 L765.84,350.57 L766.65,348.75 L767.46,347.07 L768.28,345.52 L769.09,344.11 L769.91,342.84 L770.72,341.69 L771.53,340.67 L772.35,339.77 L773.16,339.00 L773.97,338.33 L774.79,337.77 L775.60,337.31 L776.42,336.94 L777.23,336.66 L778.04,336.46 L778.86,336.32 L779.67,336.24 L780.49,336.21 L781.30,336.20 L782.01,336.21 L782.72,336.24 L783.42,336.32 L784.13,336.46 L784.84,336.66 L785.55,336.94 L786.26,337.31 L786.97,337.77 L787.67,338.33 L788.38,339.00 L789.09,339.77 L789.80,340.67 L790.51,341.69 L791.22,342.84 L791.92,344.11 L792.63,345.52 L793.34,347.07 L794.05,348.75 L794.76,350.57 L795.47,352.53 L796.17,354.62 L796.88,356.85 L797.59,359.22 L798.30,361.72 L799.01,364.35 L799.72,367.10 L800.42,369.97 L801.13,372.95 L801.84,376.04 L802.55,379.24 L803.26,382.52 L803.97,385.89 L804.67,389.33 L805.38,392.84 L806.09,396.40 L806.80,400.00 Z" fill="url(#vBlueGap)" />
<path d="M800.60,400.00 L801.44,398.04 L802.29,396.10 L803.13,394.18 L803.98,392.29 L804.82,390.43 L805.67,388.61 L806.51,386.83 L807.36,385.09 L808.20,383.40 L809.04,381.76 L809.89,380.19 L810.73,378.67 L811.58,377.21 L812.42,375.82 L813.27,374.49 L814.11,373.23 L814.96,372.04 L815.80,370.93 L816.64,369.89 L817.49,368.92 L818.33,368.02 L819.18,367.19 L820.02,366.44 L820.87,365.76 L821.71,365.16 L822.56,364.62 L823.40,364.15 L824.24,363.74 L825.09,363.40 L825.93,363.13 L826.78,362.90 L827.62,362.74 L828.47,362.62 L829.31,362.54 L830.16,362.51 L831.00,362.50 L831.83,362.51 L832.67,362.54 L833.50,362.62 L834.33,362.74 L835.17,362.90 L836.00,363.13 L836.83,363.40 L837.67,363.74 L838.50,364.15 L839.33,364.62 L840.17,365.16 L841.00,365.76 L841.83,366.44 L842.67,367.19 L843.50,368.02 L844.33,368.92 L845.17,369.89 L846.00,370.93 L846.83,372.04 L847.67,373.23 L848.50,374.49 L849.33,375.82 L850.17,377.21 L851.00,378.67 L851.83,380.19 L852.67,381.76 L853.50,383.40 L854.33,385.09 L855.17,386.83 L856.00,388.61 L856.83,390.43 L857.67,392.29 L858.50,394.18 L859.33,396.10 L860.17,398.04 L861.00,400.00 Z" fill="url(#gOrR)" />
<path d="M-25.00,400.00 L-24.42,401.16 L-23.83,402.32 L-23.25,403.46 L-22.67,404.58 L-22.08,405.69 L-21.50,406.77 L-20.92,407.83 L-20.33,408.87 L-19.75,409.87 L-19.17,410.84 L-18.58,411.78 L-18.00,412.69 L-17.42,413.55 L-16.83,414.38 L-16.25,415.17 L-15.67,415.92 L-15.08,416.62 L-14.50,417.29 L-13.92,417.91 L-13.33,418.49 L-12.75,419.02 L-12.17,419.51 L-11.58,419.96 L-11.00,420.36 L-10.42,420.72 L-9.83,421.04 L-9.25,421.32 L-8.67,421.56 L-8.08,421.76 L-7.50,421.93 L-6.92,422.06 L-6.33,422.16 L-5.75,422.23 L-5.17,422.27 L-4.58,422.29 L-4.00,422.30 L-3.42,422.29 L-2.83,422.27 L-2.25,422.23 L-1.67,422.16 L-1.08,422.06 L-0.50,421.93 L0.08,421.76 L0.67,421.56 L1.25,421.32 L1.83,421.04 L2.42,420.72 L3.00,420.36 L3.58,419.96 L4.17,419.51 L4.75,419.02 L5.33,418.49 L5.92,417.91 L6.50,417.29 L7.08,416.62 L7.67,415.92 L8.25,415.17 L8.83,414.38 L9.42,413.55 L10.00,412.69 L10.58,411.78 L11.17,410.84 L11.75,409.87 L12.33,408.87 L12.92,407.83 L13.50,406.77 L14.08,405.69 L14.67,404.58 L15.25,403.46 L15.83,402.32 L16.42,401.16 L17.00,400.00 Z" fill="#f012b4" />
<path d="M28.00,400.00 L28.59,400.75 L29.18,401.49 L29.78,402.22 L30.37,402.93 L30.96,403.63 L31.55,404.30 L32.14,404.95 L32.73,405.57 L33.33,406.17 L33.92,406.74 L34.51,407.29 L35.10,407.80 L35.69,408.29 L36.28,408.74 L36.88,409.17 L37.47,409.56 L38.06,409.93 L38.65,410.27 L39.24,410.57 L39.83,410.85 L40.42,411.10 L41.02,411.33 L41.61,411.53 L42.20,411.70 L42.79,411.85 L43.38,411.98 L43.97,412.09 L44.57,412.17 L45.16,412.24 L45.75,412.30 L46.34,412.34 L46.93,412.37 L47.52,412.39 L48.12,412.40 L48.71,412.40 L49.30,412.40 L49.89,412.40 L50.48,412.40 L51.07,412.39 L51.66,412.37 L52.24,412.34 L52.83,412.30 L53.42,412.24 L54.01,412.17 L54.60,412.09 L55.19,411.98 L55.78,411.85 L56.37,411.70 L56.96,411.53 L57.54,411.33 L58.13,411.10 L58.72,410.85 L59.31,410.57 L59.90,410.27 L60.49,409.93 L61.08,409.56 L61.67,409.17 L62.26,408.74 L62.84,408.29 L63.43,407.80 L64.02,407.29 L64.61,406.74 L65.20,406.17 L65.79,405.57 L66.38,404.95 L66.97,404.30 L67.56,403.63 L68.14,402.93 L68.73,402.22 L69.32,401.49 L69.91,400.75 L70.50,400.00 Z" fill="#1ab496" />
<path d="M81.10,400.00 L81.71,401.24 L82.32,402.46 L82.92,403.66 L83.53,404.84 L84.14,406.00 L84.75,407.13 L85.36,408.22 L85.97,409.28 L86.57,410.31 L87.18,411.29 L87.79,412.24 L88.40,413.14 L89.01,414.00 L89.62,414.81 L90.22,415.58 L90.83,416.30 L91.44,416.97 L92.05,417.59 L92.66,418.17 L93.27,418.70 L93.88,419.18 L94.48,419.62 L95.09,420.02 L95.70,420.37 L96.31,420.67 L96.92,420.94 L97.53,421.17 L98.13,421.36 L98.74,421.52 L99.35,421.64 L99.96,421.74 L100.57,421.81 L101.17,421.86 L101.78,421.89 L102.39,421.90 L103.00,421.90 L103.68,421.90 L104.36,421.89 L105.04,421.86 L105.72,421.81 L106.40,421.74 L107.08,421.64 L107.76,421.52 L108.44,421.36 L109.12,421.17 L109.81,420.94 L110.49,420.67 L111.17,420.37 L111.85,420.02 L112.53,419.62 L113.21,419.18 L113.89,418.70 L114.57,418.17 L115.25,417.59 L115.93,416.97 L116.61,416.30 L117.29,415.58 L117.97,414.81 L118.65,414.00 L119.33,413.14 L120.01,412.24 L120.69,411.29 L121.38,410.31 L122.06,409.28 L122.74,408.22 L123.42,407.13 L124.10,406.00 L124.78,404.84 L125.46,403.66 L126.14,402.46 L126.82,401.24 L127.50,400.00 Z" fill="url(#dotTeal)" />
<path d="M131.00,400.00 L131.66,400.98 L132.32,401.95 L132.97,402.92 L133.63,403.86 L134.29,404.80 L134.95,405.71 L135.61,406.60 L136.27,407.48 L136.93,408.32 L137.58,409.14 L138.24,409.93 L138.90,410.70 L139.56,411.43 L140.22,412.12 L140.88,412.79 L141.53,413.42 L142.19,414.01 L142.85,414.57 L143.51,415.10 L144.17,415.58 L144.82,416.03 L145.48,416.45 L146.14,416.82 L146.80,417.16 L147.46,417.47 L148.12,417.74 L148.77,417.97 L149.43,418.18 L150.09,418.35 L150.75,418.49 L151.41,418.60 L152.07,418.68 L152.72,418.74 L153.38,418.78 L154.04,418.80 L154.70,418.80 L155.35,418.80 L155.99,418.78 L156.64,418.74 L157.29,418.68 L157.94,418.60 L158.58,418.49 L159.23,418.35 L159.88,418.18 L160.52,417.97 L161.17,417.74 L161.82,417.47 L162.47,417.16 L163.11,416.82 L163.76,416.45 L164.41,416.03 L165.06,415.58 L165.70,415.10 L166.35,414.57 L167.00,414.01 L167.64,413.42 L168.29,412.79 L168.94,412.12 L169.59,411.43 L170.23,410.70 L170.88,409.93 L171.53,409.14 L172.18,408.32 L172.82,407.48 L173.47,406.60 L174.12,405.71 L174.76,404.80 L175.41,403.86 L176.06,402.92 L176.71,401.95 L177.35,400.98 L178.00,400.00 Z" fill="#6a4ea8" />
<path d="M151.20,400.00 L152.12,401.99 L153.05,403.97 L153.97,405.93 L154.90,407.87 L155.82,409.79 L156.75,411.69 L157.67,413.55 L158.60,415.37 L159.52,417.15 L160.45,418.89 L161.38,420.59 L162.30,422.23 L163.22,423.81 L164.15,425.35 L165.07,426.82 L166.00,428.23 L166.92,429.57 L167.85,430.85 L168.78,432.06 L169.70,433.19 L170.62,434.26 L171.55,435.25 L172.47,436.17 L173.40,437.02 L174.32,437.79 L175.25,438.48 L176.18,439.10 L177.10,439.64 L178.03,440.11 L178.95,440.51 L179.88,440.84 L180.80,441.09 L181.72,441.28 L182.65,441.41 L183.57,441.48 L184.50,441.50 L185.28,441.48 L186.06,441.41 L186.83,441.28 L187.61,441.09 L188.39,440.84 L189.17,440.51 L189.94,440.11 L190.72,439.64 L191.50,439.10 L192.28,438.48 L193.06,437.79 L193.83,437.02 L194.61,436.17 L195.39,435.25 L196.17,434.26 L196.94,433.19 L197.72,432.06 L198.50,430.85 L199.28,429.57 L200.06,428.23 L200.83,426.82 L201.61,425.35 L202.39,423.81 L203.17,422.23 L203.94,420.59 L204.72,418.89 L205.50,417.15 L206.28,415.37 L207.06,413.55 L207.83,411.69 L208.61,409.79 L209.39,407.87 L210.17,405.93 L210.94,403.97 L211.72,401.99 L212.50,400.00 Z" fill="url(#gMag)" />
<path d="M151.20,400.00 L152.12,401.99 L153.05,403.97 L153.97,405.93 L154.90,407.87 L155.82,409.79 L156.75,411.69 L157.67,413.55 L158.60,415.37 L159.52,417.15 L160.45,418.89 L161.38,420.59 L162.30,422.23 L163.22,423.81 L164.15,425.35 L165.07,426.82 L166.00,428.23 L166.92,429.57 L167.85,430.85 L168.78,432.06 L169.70,433.19 L170.62,434.26 L171.55,435.25 L172.47,436.17 L173.40,437.02 L174.32,437.79 L175.25,438.48 L176.18,439.10 L177.10,439.64 L178.03,440.11 L178.95,440.51 L179.88,440.84 L180.80,441.09 L181.72,441.28 L182.65,441.41 L183.57,441.48 L184.50,441.50 L185.28,441.48 L186.06,441.41 L186.83,441.28 L187.61,441.09 L188.39,440.84 L189.17,440.51 L189.94,440.11 L190.72,439.64 L191.50,439.10 L192.28,438.48 L193.06,437.79 L193.83,437.02 L194.61,436.17 L195.39,435.25 L196.17,434.26 L196.94,433.19 L197.72,432.06 L198.50,430.85 L199.28,429.57 L200.06,428.23 L200.83,426.82 L201.61,425.35 L202.39,423.81 L203.17,422.23 L203.94,420.59 L204.72,418.89 L205.50,417.15 L206.28,415.37 L207.06,413.55 L207.83,411.69 L208.61,409.79 L209.39,407.87 L210.17,405.93 L210.94,403.97 L211.72,401.99 L212.50,400.00 Z" fill="#b070d0" clip-path="url(#cPur)"/>
<path d="M256.20,400.00 L256.79,400.87 L257.37,401.73 L257.96,402.58 L258.54,403.41 L259.13,404.22 L259.72,405.01 L260.30,405.78 L260.89,406.53 L261.48,407.25 L262.06,407.94 L262.65,408.61 L263.23,409.24 L263.82,409.84 L264.41,410.41 L264.99,410.95 L265.58,411.46 L266.16,411.93 L266.75,412.37 L267.34,412.78 L267.92,413.15 L268.51,413.49 L269.09,413.80 L269.68,414.07 L270.27,414.32 L270.85,414.54 L271.44,414.73 L272.02,414.89 L272.61,415.02 L273.20,415.13 L273.78,415.22 L274.37,415.29 L274.96,415.34 L275.54,415.37 L276.13,415.39 L276.71,415.40 L277.30,415.40 L277.73,415.40 L278.15,415.39 L278.57,415.37 L279.00,415.34 L279.43,415.29 L279.85,415.22 L280.28,415.13 L280.70,415.02 L281.12,414.89 L281.55,414.73 L281.98,414.54 L282.40,414.32 L282.82,414.07 L283.25,413.80 L283.68,413.49 L284.10,413.15 L284.53,412.78 L284.95,412.37 L285.38,411.93 L285.80,411.46 L286.23,410.95 L286.65,410.41 L287.08,409.84 L287.50,409.24 L287.93,408.61 L288.35,407.94 L288.78,407.25 L289.20,406.53 L289.62,405.78 L290.05,405.01 L290.48,404.22 L290.90,403.41 L291.33,402.58 L291.75,401.73 L292.18,400.87 L292.60,400.00 Z" fill="#f87a60" />
<path d="M238.50,400.00 L239.01,401.01 L239.53,402.01 L240.04,403.00 L240.56,403.98 L241.07,404.96 L241.58,405.91 L242.10,406.85 L242.61,407.78 L243.12,408.68 L243.64,409.56 L244.15,410.42 L244.67,411.25 L245.18,412.05 L245.69,412.83 L246.21,413.57 L246.72,414.28 L247.24,414.96 L247.75,415.61 L248.26,416.22 L248.78,416.80 L249.29,417.34 L249.81,417.84 L250.32,418.30 L250.83,418.73 L251.35,419.12 L251.86,419.47 L252.38,419.78 L252.89,420.06 L253.40,420.30 L253.92,420.50 L254.43,420.66 L254.94,420.79 L255.46,420.89 L255.97,420.96 L256.49,420.99 L257.00,421.00 L257.44,420.99 L257.89,420.96 L258.33,420.89 L258.78,420.79 L259.22,420.66 L259.67,420.50 L260.11,420.30 L260.56,420.06 L261.00,419.78 L261.44,419.47 L261.89,419.12 L262.33,418.73 L262.78,418.30 L263.22,417.84 L263.67,417.34 L264.11,416.80 L264.56,416.22 L265.00,415.61 L265.44,414.96 L265.89,414.28 L266.33,413.57 L266.78,412.83 L267.22,412.05 L267.67,411.25 L268.11,410.42 L268.56,409.56 L269.00,408.68 L269.44,407.78 L269.89,406.85 L270.33,405.91 L270.78,404.96 L271.22,403.98 L271.67,403.00 L272.11,402.01 L272.56,401.01 L273.00,400.00 Z" fill="url(#vGreen)" />
<path d="M238.50,400.00 L239.01,401.01 L239.53,402.01 L240.04,403.00 L240.56,403.98 L241.07,404.96 L241.58,405.91 L242.10,406.85 L242.61,407.78 L243.12,408.68 L243.64,409.56 L244.15,410.42 L244.67,411.25 L245.18,412.05 L245.69,412.83 L246.21,413.57 L246.72,414.28 L247.24,414.96 L247.75,415.61 L248.26,416.22 L248.78,416.80 L249.29,417.34 L249.81,417.84 L250.32,418.30 L250.83,418.73 L251.35,419.12 L251.86,419.47 L252.38,419.78 L252.89,420.06 L253.40,420.30 L253.92,420.50 L254.43,420.66 L254.94,420.79 L255.46,420.89 L255.97,420.96 L256.49,420.99 L257.00,421.00 L257.44,420.99 L257.89,420.96 L258.33,420.89 L258.78,420.79 L259.22,420.66 L259.67,420.50 L260.11,420.30 L260.56,420.06 L261.00,419.78 L261.44,419.47 L261.89,419.12 L262.33,418.73 L262.78,418.30 L263.22,417.84 L263.67,417.34 L264.11,416.80 L264.56,416.22 L265.00,415.61 L265.44,414.96 L265.89,414.28 L266.33,413.57 L266.78,412.83 L267.22,412.05 L267.67,411.25 L268.11,410.42 L268.56,409.56 L269.00,408.68 L269.44,407.78 L269.89,406.85 L270.33,405.91 L270.78,404.96 L271.22,403.98 L271.67,403.00 L272.11,402.01 L272.56,401.01 L273.00,400.00 Z" fill="url(#vGreenO)" clip-path="url(#cSal)"/>
<path d="M328.80,400.00 L329.72,402.05 L330.64,404.10 L331.57,406.13 L332.49,408.16 L333.41,410.17 L334.33,412.16 L335.26,414.13 L336.18,416.07 L337.10,417.99 L338.02,419.86 L338.94,421.70 L339.87,423.50 L340.79,425.25 L341.71,426.96 L342.63,428.61 L343.56,430.21 L344.48,431.75 L345.40,433.23 L346.32,434.65 L347.24,436.00 L348.17,437.29 L349.09,438.50 L350.01,439.64 L350.93,440.70 L351.86,441.69 L352.78,442.60 L353.70,443.42 L354.62,444.17 L355.54,444.82 L356.47,445.40 L357.39,445.89 L358.31,446.29 L359.23,446.60 L360.16,446.82 L361.08,446.96 L362.00,447.00 L362.96,446.96 L363.92,446.82 L364.88,446.60 L365.83,446.29 L366.79,445.89 L367.75,445.40 L368.71,444.82 L369.67,444.17 L370.62,443.42 L371.58,442.60 L372.54,441.69 L373.50,440.70 L374.46,439.64 L375.42,438.50 L376.38,437.29 L377.33,436.00 L378.29,434.65 L379.25,433.23 L380.21,431.75 L381.17,430.21 L382.12,428.61 L383.08,426.96 L384.04,425.25 L385.00,423.50 L385.96,421.70 L386.92,419.86 L387.88,417.99 L388.83,416.07 L389.79,414.13 L390.75,412.16 L391.71,410.17 L392.67,408.16 L393.62,406.13 L394.58,404.10 L395.54,402.05 L396.50,400.00 Z" fill="url(#gGreenDot)" />
<path d="M328.80,400.00 L329.72,402.05 L330.64,404.10 L331.57,406.13 L332.49,408.16 L333.41,410.17 L334.33,412.16 L335.26,414.13 L336.18,416.07 L337.10,417.99 L338.02,419.86 L338.94,421.70 L339.87,423.50 L340.79,425.25 L341.71,426.96 L342.63,428.61 L343.56,430.21 L344.48,431.75 L345.40,433.23 L346.32,434.65 L347.24,436.00 L348.17,437.29 L349.09,438.50 L350.01,439.64 L350.93,440.70 L351.86,441.69 L352.78,442.60 L353.70,443.42 L354.62,444.17 L355.54,444.82 L356.47,445.40 L357.39,445.89 L358.31,446.29 L359.23,446.60 L360.16,446.82 L361.08,446.96 L362.00,447.00 L362.96,446.96 L363.92,446.82 L364.88,446.60 L365.83,446.29 L366.79,445.89 L367.75,445.40 L368.71,444.82 L369.67,444.17 L370.62,443.42 L371.58,442.60 L372.54,441.69 L373.50,440.70 L374.46,439.64 L375.42,438.50 L376.38,437.29 L377.33,436.00 L378.29,434.65 L379.25,433.23 L380.21,431.75 L381.17,430.21 L382.12,428.61 L383.08,426.96 L384.04,425.25 L385.00,423.50 L385.96,421.70 L386.92,419.86 L387.88,417.99 L388.83,416.07 L389.79,414.13 L390.75,412.16 L391.71,410.17 L392.67,408.16 L393.62,406.13 L394.58,404.10 L395.54,402.05 L396.50,400.00 Z" fill="url(#dotLight)" />
<path d="M354.80,400.00 L355.28,401.40 L355.76,402.77 L356.23,404.11 L356.71,405.41 L357.19,406.67 L357.67,407.89 L358.14,409.06 L358.62,410.18 L359.10,411.25 L359.58,412.26 L360.06,413.21 L360.53,414.11 L361.01,414.95 L361.49,415.73 L361.97,416.45 L362.44,417.11 L362.92,417.72 L363.40,418.27 L363.88,418.77 L364.36,419.21 L364.83,419.61 L365.31,419.96 L365.79,420.26 L366.27,420.53 L366.74,420.75 L367.22,420.93 L367.70,421.09 L368.18,421.21 L368.66,421.31 L369.13,421.38 L369.61,421.43 L370.09,421.46 L370.57,421.48 L371.04,421.50 L371.52,421.50 L372.00,421.50 L372.61,421.50 L373.23,421.50 L373.84,421.48 L374.46,421.46 L375.07,421.43 L375.68,421.38 L376.30,421.31 L376.91,421.21 L377.52,421.09 L378.14,420.93 L378.75,420.75 L379.37,420.53 L379.98,420.26 L380.59,419.96 L381.21,419.61 L381.82,419.21 L382.44,418.77 L383.05,418.27 L383.66,417.72 L384.28,417.11 L384.89,416.45 L385.51,415.73 L386.12,414.95 L386.73,414.11 L387.35,413.21 L387.96,412.26 L388.58,411.25 L389.19,410.18 L389.80,409.06 L390.42,407.89 L391.03,406.67 L391.64,405.41 L392.26,404.11 L392.87,402.77 L393.49,401.40 L394.10,400.00 Z" fill="#4a88d2" />
<path d="M354.80,400.00 L355.28,401.40 L355.76,402.77 L356.23,404.11 L356.71,405.41 L357.19,406.67 L357.67,407.89 L358.14,409.06 L358.62,410.18 L359.10,411.25 L359.58,412.26 L360.06,413.21 L360.53,414.11 L361.01,414.95 L361.49,415.73 L361.97,416.45 L362.44,417.11 L362.92,417.72 L363.40,418.27 L363.88,418.77 L364.36,419.21 L364.83,419.61 L365.31,419.96 L365.79,420.26 L366.27,420.53 L366.74,420.75 L367.22,420.93 L367.70,421.09 L368.18,421.21 L368.66,421.31 L369.13,421.38 L369.61,421.43 L370.09,421.46 L370.57,421.48 L371.04,421.50 L371.52,421.50 L372.00,421.50 L372.61,421.50 L373.23,421.50 L373.84,421.48 L374.46,421.46 L375.07,421.43 L375.68,421.38 L376.30,421.31 L376.91,421.21 L377.52,421.09 L378.14,420.93 L378.75,420.75 L379.37,420.53 L379.98,420.26 L380.59,419.96 L381.21,419.61 L381.82,419.21 L382.44,418.77 L383.05,418.27 L383.66,417.72 L384.28,417.11 L384.89,416.45 L385.51,415.73 L386.12,414.95 L386.73,414.11 L387.35,413.21 L387.96,412.26 L388.58,411.25 L389.19,410.18 L389.80,409.06 L390.42,407.89 L391.03,406.67 L391.64,405.41 L392.26,404.11 L392.87,402.77 L393.49,401.40 L394.10,400.00 Z" fill="url(#dotLight)" />
<path d="M431.50,400.00 L432.46,402.05 L433.42,404.10 L434.38,406.13 L435.33,408.16 L436.29,410.17 L437.25,412.16 L438.21,414.13 L439.17,416.07 L440.12,417.99 L441.08,419.86 L442.04,421.70 L443.00,423.50 L443.96,425.25 L444.92,426.96 L445.88,428.61 L446.83,430.21 L447.79,431.75 L448.75,433.23 L449.71,434.65 L450.67,436.00 L451.62,437.29 L452.58,438.50 L453.54,439.64 L454.50,440.70 L455.46,441.69 L456.42,442.60 L457.38,443.42 L458.33,444.17 L459.29,444.82 L460.25,445.40 L461.21,445.89 L462.17,446.29 L463.12,446.60 L464.08,446.82 L465.04,446.96 L466.00,447.00 L466.92,446.96 L467.84,446.82 L468.77,446.60 L469.69,446.29 L470.61,445.89 L471.53,445.40 L472.46,444.82 L473.38,444.17 L474.30,443.42 L475.22,442.60 L476.14,441.69 L477.07,440.70 L477.99,439.64 L478.91,438.50 L479.83,437.29 L480.76,436.00 L481.68,434.65 L482.60,433.23 L483.52,431.75 L484.44,430.21 L485.37,428.61 L486.29,426.96 L487.21,425.25 L488.13,423.50 L489.06,421.70 L489.98,419.86 L490.90,417.99 L491.82,416.07 L492.74,414.13 L493.67,412.16 L494.59,410.17 L495.51,408.16 L496.43,406.13 L497.36,404.10 L498.28,402.05 L499.20,400.00 Z" fill="#f86050" />
<path d="M431.50,400.00 L432.46,402.05 L433.42,404.10 L434.38,406.13 L435.33,408.16 L436.29,410.17 L437.25,412.16 L438.21,414.13 L439.17,416.07 L440.12,417.99 L441.08,419.86 L442.04,421.70 L443.00,423.50 L443.96,425.25 L444.92,426.96 L445.88,428.61 L446.83,430.21 L447.79,431.75 L448.75,433.23 L449.71,434.65 L450.67,436.00 L451.62,437.29 L452.58,438.50 L453.54,439.64 L454.50,440.70 L455.46,441.69 L456.42,442.60 L457.38,443.42 L458.33,444.17 L459.29,444.82 L460.25,445.40 L461.21,445.89 L462.17,446.29 L463.12,446.60 L464.08,446.82 L465.04,446.96 L466.00,447.00 L466.92,446.96 L467.84,446.82 L468.77,446.60 L469.69,446.29 L470.61,445.89 L471.53,445.40 L472.46,444.82 L473.38,444.17 L474.30,443.42 L475.22,442.60 L476.14,441.69 L477.07,440.70 L477.99,439.64 L478.91,438.50 L479.83,437.29 L480.76,436.00 L481.68,434.65 L482.60,433.23 L483.52,431.75 L484.44,430.21 L485.37,428.61 L486.29,426.96 L487.21,425.25 L488.13,423.50 L489.06,421.70 L489.98,419.86 L490.90,417.99 L491.82,416.07 L492.74,414.13 L493.67,412.16 L494.59,410.17 L495.51,408.16 L496.43,406.13 L497.36,404.10 L498.28,402.05 L499.20,400.00 Z" fill="url(#dotDark)" />
<path d="M435.00,400.00 L435.61,401.36 L436.22,402.70 L436.83,404.01 L437.44,405.28 L438.06,406.52 L438.67,407.71 L439.28,408.85 L439.89,409.94 L440.50,410.99 L441.11,411.97 L441.72,412.90 L442.33,413.78 L442.94,414.60 L443.56,415.36 L444.17,416.06 L444.78,416.71 L445.39,417.30 L446.00,417.84 L446.61,418.33 L447.22,418.77 L447.83,419.15 L448.44,419.49 L449.06,419.79 L449.67,420.05 L450.28,420.27 L450.89,420.45 L451.50,420.60 L452.11,420.72 L452.72,420.81 L453.33,420.88 L453.94,420.93 L454.56,420.96 L455.17,420.99 L455.78,421.00 L456.39,421.00 L457.00,421.00 L457.47,421.00 L457.94,421.00 L458.41,420.99 L458.88,420.96 L459.35,420.93 L459.82,420.88 L460.29,420.81 L460.76,420.72 L461.23,420.60 L461.69,420.45 L462.16,420.27 L462.63,420.05 L463.10,419.79 L463.57,419.49 L464.04,419.15 L464.51,418.77 L464.98,418.33 L465.45,417.84 L465.92,417.30 L466.39,416.71 L466.86,416.06 L467.33,415.36 L467.80,414.60 L468.27,413.78 L468.74,412.90 L469.21,411.97 L469.67,410.99 L470.14,409.94 L470.61,408.85 L471.08,407.71 L471.55,406.52 L472.02,405.28 L472.49,404.01 L472.96,402.70 L473.43,401.36 L473.90,400.00 Z" fill="#78a8b0" />
<path d="M435.00,400.00 L435.61,401.36 L436.22,402.70 L436.83,404.01 L437.44,405.28 L438.06,406.52 L438.67,407.71 L439.28,408.85 L439.89,409.94 L440.50,410.99 L441.11,411.97 L441.72,412.90 L442.33,413.78 L442.94,414.60 L443.56,415.36 L444.17,416.06 L444.78,416.71 L445.39,417.30 L446.00,417.84 L446.61,418.33 L447.22,418.77 L447.83,419.15 L448.44,419.49 L449.06,419.79 L449.67,420.05 L450.28,420.27 L450.89,420.45 L451.50,420.60 L452.11,420.72 L452.72,420.81 L453.33,420.88 L453.94,420.93 L454.56,420.96 L455.17,420.99 L455.78,421.00 L456.39,421.00 L457.00,421.00 L457.47,421.00 L457.94,421.00 L458.41,420.99 L458.88,420.96 L459.35,420.93 L459.82,420.88 L460.29,420.81 L460.76,420.72 L461.23,420.60 L461.69,420.45 L462.16,420.27 L462.63,420.05 L463.10,419.79 L463.57,419.49 L464.04,419.15 L464.51,418.77 L464.98,418.33 L465.45,417.84 L465.92,417.30 L466.39,416.71 L466.86,416.06 L467.33,415.36 L467.80,414.60 L468.27,413.78 L468.74,412.90 L469.21,411.97 L469.67,410.99 L470.14,409.94 L470.61,408.85 L471.08,407.71 L471.55,406.52 L472.02,405.28 L472.49,404.01 L472.96,402.70 L473.43,401.36 L473.90,400.00 Z" fill="url(#dotDark)" opacity="0.6"/>
<path d="M535.90,400.00 L536.33,400.81 L536.76,401.61 L537.18,402.40 L537.61,403.19 L538.04,403.96 L538.47,404.71 L538.89,405.45 L539.32,406.16 L539.75,406.86 L540.18,407.54 L540.61,408.19 L541.03,408.82 L541.46,409.42 L541.89,410.00 L542.32,410.54 L542.74,411.06 L543.17,411.55 L543.60,412.02 L544.03,412.45 L544.46,412.85 L544.88,413.22 L545.31,413.56 L545.74,413.87 L546.17,414.15 L546.59,414.40 L547.02,414.62 L547.45,414.82 L547.88,414.99 L548.31,415.13 L548.73,415.24 L549.16,415.33 L549.59,415.40 L550.02,415.45 L550.44,415.48 L550.87,415.50 L551.30,415.50 L551.78,415.50 L552.26,415.48 L552.73,415.45 L553.21,415.40 L553.69,415.33 L554.17,415.24 L554.64,415.13 L555.12,414.99 L555.60,414.82 L556.08,414.62 L556.56,414.40 L557.03,414.15 L557.51,413.87 L557.99,413.56 L558.47,413.22 L558.94,412.85 L559.42,412.45 L559.90,412.02 L560.38,411.55 L560.86,411.06 L561.33,410.54 L561.81,410.00 L562.29,409.42 L562.77,408.82 L563.24,408.19 L563.72,407.54 L564.20,406.86 L564.68,406.16 L565.16,405.45 L565.63,404.71 L566.11,403.96 L566.59,403.19 L567.07,402.40 L567.54,401.61 L568.02,400.81 L568.50,400.00 Z" fill="url(#gMag2)" />
<path d="M542.00,400.00 L542.72,401.13 L543.44,402.25 L544.17,403.35 L544.89,404.44 L545.61,405.51 L546.33,406.56 L547.06,407.59 L547.78,408.59 L548.50,409.56 L549.22,410.50 L549.94,411.41 L550.67,412.29 L551.39,413.13 L552.11,413.93 L552.83,414.69 L553.56,415.42 L554.28,416.10 L555.00,416.74 L555.72,417.35 L556.44,417.90 L557.17,418.42 L557.89,418.90 L558.61,419.33 L559.33,419.72 L560.06,420.07 L560.78,420.38 L561.50,420.65 L562.22,420.88 L562.94,421.08 L563.67,421.24 L564.39,421.37 L565.11,421.46 L565.83,421.53 L566.56,421.57 L567.28,421.60 L568.00,421.60 L568.61,421.60 L569.21,421.57 L569.82,421.53 L570.42,421.46 L571.03,421.37 L571.63,421.24 L572.24,421.08 L572.84,420.88 L573.45,420.65 L574.06,420.38 L574.66,420.07 L575.27,419.72 L575.87,419.33 L576.48,418.90 L577.08,418.42 L577.69,417.90 L578.29,417.35 L578.90,416.74 L579.51,416.10 L580.11,415.42 L580.72,414.69 L581.32,413.93 L581.93,413.13 L582.53,412.29 L583.14,411.41 L583.74,410.50 L584.35,409.56 L584.96,408.59 L585.56,407.59 L586.17,406.56 L586.77,405.51 L587.38,404.44 L587.98,403.35 L588.59,402.25 L589.19,401.13 L589.80,400.00 Z" fill="url(#vLBlue)" />
<path d="M542.00,400.00 L542.72,401.13 L543.44,402.25 L544.17,403.35 L544.89,404.44 L545.61,405.51 L546.33,406.56 L547.06,407.59 L547.78,408.59 L548.50,409.56 L549.22,410.50 L549.94,411.41 L550.67,412.29 L551.39,413.13 L552.11,413.93 L552.83,414.69 L553.56,415.42 L554.28,416.10 L555.00,416.74 L555.72,417.35 L556.44,417.90 L557.17,418.42 L557.89,418.90 L558.61,419.33 L559.33,419.72 L560.06,420.07 L560.78,420.38 L561.50,420.65 L562.22,420.88 L562.94,421.08 L563.67,421.24 L564.39,421.37 L565.11,421.46 L565.83,421.53 L566.56,421.57 L567.28,421.60 L568.00,421.60 L568.61,421.60 L569.21,421.57 L569.82,421.53 L570.42,421.46 L571.03,421.37 L571.63,421.24 L572.24,421.08 L572.84,420.88 L573.45,420.65 L574.06,420.38 L574.66,420.07 L575.27,419.72 L575.87,419.33 L576.48,418.90 L577.08,418.42 L577.69,417.90 L578.29,417.35 L578.90,416.74 L579.51,416.10 L580.11,415.42 L580.72,414.69 L581.32,413.93 L581.93,413.13 L582.53,412.29 L583.14,411.41 L583.74,410.50 L584.35,409.56 L584.96,408.59 L585.56,407.59 L586.17,406.56 L586.77,405.51 L587.38,404.44 L587.98,403.35 L588.59,402.25 L589.19,401.13 L589.80,400.00 Z" fill="url(#vLBlueM)" clip-path="url(#cMag2)"/>
<path d="M614.80,400.00 L615.65,402.06 L616.51,404.11 L617.36,406.14 L618.21,408.14 L619.06,410.12 L619.92,412.06 L620.77,413.97 L621.62,415.83 L622.47,417.64 L623.33,419.40 L624.18,421.11 L625.03,422.76 L625.89,424.35 L626.74,425.88 L627.59,427.34 L628.44,428.73 L629.30,430.05 L630.15,431.30 L631.00,432.48 L631.86,433.58 L632.71,434.60 L633.56,435.54 L634.41,436.41 L635.27,437.20 L636.12,437.92 L636.97,438.56 L637.83,439.12 L638.68,439.61 L639.53,440.03 L640.38,440.38 L641.24,440.66 L642.09,440.88 L642.94,441.03 L643.79,441.13 L644.65,441.19 L645.50,441.20 L646.34,441.19 L647.18,441.13 L648.02,441.03 L648.86,440.88 L649.69,440.66 L650.53,440.38 L651.37,440.03 L652.21,439.61 L653.05,439.12 L653.89,438.56 L654.73,437.92 L655.57,437.20 L656.41,436.41 L657.24,435.54 L658.08,434.60 L658.92,433.58 L659.76,432.48 L660.60,431.30 L661.44,430.05 L662.28,428.73 L663.12,427.34 L663.96,425.88 L664.79,424.35 L665.63,422.76 L666.47,421.11 L667.31,419.40 L668.15,417.64 L668.99,415.83 L669.83,413.97 L670.67,412.06 L671.51,410.12 L672.34,408.14 L673.18,406.14 L674.02,404.11 L674.86,402.06 L675.70,400.00 Z" fill="url(#gGreenR)" />
<path d="M652.00,400.00 L652.62,401.00 L653.25,402.00 L653.88,402.98 L654.50,403.95 L655.12,404.90 L655.75,405.83 L656.38,406.75 L657.00,407.63 L657.62,408.50 L658.25,409.34 L658.88,410.14 L659.50,410.92 L660.12,411.67 L660.75,412.38 L661.38,413.06 L662.00,413.71 L662.62,414.31 L663.25,414.88 L663.88,415.42 L664.50,415.92 L665.12,416.37 L665.75,416.80 L666.38,417.18 L667.00,417.53 L667.62,417.84 L668.25,418.12 L668.88,418.36 L669.50,418.56 L670.12,418.74 L670.75,418.88 L671.38,418.99 L672.00,419.08 L672.62,419.14 L673.25,419.18 L673.88,419.20 L674.50,419.20 L675.08,419.20 L675.66,419.18 L676.24,419.14 L676.82,419.08 L677.40,418.99 L677.98,418.88 L678.56,418.74 L679.14,418.56 L679.73,418.36 L680.31,418.12 L680.89,417.84 L681.47,417.53 L682.05,417.18 L682.63,416.80 L683.21,416.37 L683.79,415.92 L684.37,415.42 L684.95,414.88 L685.53,414.31 L686.11,413.71 L686.69,413.06 L687.27,412.38 L687.85,411.67 L688.43,410.92 L689.01,410.14 L689.59,409.34 L690.17,408.50 L690.76,407.63 L691.34,406.75 L691.92,405.83 L692.50,404.90 L693.08,403.95 L693.66,402.98 L694.24,402.00 L694.82,401.00 L695.40,400.00 Z" fill="#58a040" />
<path d="M652.00,400.00 L652.62,401.00 L653.25,402.00 L653.88,402.98 L654.50,403.95 L655.12,404.90 L655.75,405.83 L656.38,406.75 L657.00,407.63 L657.62,408.50 L658.25,409.34 L658.88,410.14 L659.50,410.92 L660.12,411.67 L660.75,412.38 L661.38,413.06 L662.00,413.71 L662.62,414.31 L663.25,414.88 L663.88,415.42 L664.50,415.92 L665.12,416.37 L665.75,416.80 L666.38,417.18 L667.00,417.53 L667.62,417.84 L668.25,418.12 L668.88,418.36 L669.50,418.56 L670.12,418.74 L670.75,418.88 L671.38,418.99 L672.00,419.08 L672.62,419.14 L673.25,419.18 L673.88,419.20 L674.50,419.20 L675.08,419.20 L675.66,419.18 L676.24,419.14 L676.82,419.08 L677.40,418.99 L677.98,418.88 L678.56,418.74 L679.14,418.56 L679.73,418.36 L680.31,418.12 L680.89,417.84 L681.47,417.53 L682.05,417.18 L682.63,416.80 L683.21,416.37 L683.79,415.92 L684.37,415.42 L684.95,414.88 L685.53,414.31 L686.11,413.71 L686.69,413.06 L687.27,412.38 L687.85,411.67 L688.43,410.92 L689.01,410.14 L689.59,409.34 L690.17,408.50 L690.76,407.63 L691.34,406.75 L691.92,405.83 L692.50,404.90 L693.08,403.95 L693.66,402.98 L694.24,402.00 L694.82,401.00 L695.40,400.00 Z" fill="#5ccc50" clip-path="url(#cGbig)"/>
<path d="M699.80,400.00 L700.40,401.23 L701.01,402.44 L701.61,403.63 L702.21,404.80 L702.81,405.94 L703.42,407.06 L704.02,408.15 L704.62,409.20 L705.22,410.21 L705.83,411.19 L706.43,412.13 L707.03,413.02 L707.64,413.87 L708.24,414.68 L708.84,415.43 L709.44,416.15 L710.05,416.81 L710.65,417.43 L711.25,418.00 L711.86,418.53 L712.46,419.01 L713.06,419.44 L713.66,419.83 L714.27,420.18 L714.87,420.48 L715.47,420.75 L716.08,420.98 L716.68,421.17 L717.28,421.32 L717.88,421.45 L718.49,421.54 L719.09,421.61 L719.69,421.66 L720.29,421.69 L720.90,421.70 L721.50,421.70 L722.15,421.70 L722.79,421.69 L723.44,421.66 L724.09,421.61 L724.74,421.54 L725.38,421.45 L726.03,421.32 L726.68,421.17 L727.33,420.98 L727.97,420.75 L728.62,420.48 L729.27,420.18 L729.91,419.83 L730.56,419.44 L731.21,419.01 L731.86,418.53 L732.50,418.00 L733.15,417.43 L733.80,416.81 L734.44,416.15 L735.09,415.43 L735.74,414.68 L736.39,413.87 L737.03,413.02 L737.68,412.13 L738.33,411.19 L738.97,410.21 L739.62,409.20 L740.27,408.15 L740.92,407.06 L741.56,405.94 L742.21,404.80 L742.86,403.63 L743.51,402.44 L744.15,401.23 L744.80,400.00 Z" fill="url(#dotMag)" />
<path d="M757.60,400.00 L758.20,400.78 L758.81,401.55 L759.41,402.31 L760.01,403.05 L760.61,403.77 L761.22,404.47 L761.82,405.15 L762.42,405.80 L763.02,406.42 L763.63,407.01 L764.23,407.58 L764.83,408.12 L765.44,408.62 L766.04,409.10 L766.64,409.54 L767.24,409.95 L767.85,410.33 L768.45,410.68 L769.05,411.00 L769.66,411.29 L770.26,411.55 L770.86,411.79 L771.46,411.99 L772.07,412.17 L772.67,412.33 L773.27,412.46 L773.88,412.57 L774.48,412.66 L775.08,412.74 L775.68,412.79 L776.29,412.84 L776.89,412.87 L777.49,412.88 L778.09,412.90 L778.70,412.90 L779.30,412.90 L779.90,412.90 L780.51,412.90 L781.11,412.88 L781.71,412.87 L782.31,412.84 L782.92,412.79 L783.52,412.74 L784.12,412.66 L784.72,412.57 L785.33,412.46 L785.93,412.33 L786.53,412.17 L787.14,411.99 L787.74,411.79 L788.34,411.55 L788.94,411.29 L789.55,411.00 L790.15,410.68 L790.75,410.33 L791.36,409.95 L791.96,409.54 L792.56,409.10 L793.16,408.62 L793.77,408.12 L794.37,407.58 L794.97,407.01 L795.58,406.42 L796.18,405.80 L796.78,405.15 L797.38,404.47 L797.99,403.77 L798.59,403.05 L799.19,402.31 L799.79,401.55 L800.40,400.78 L801.00,400.00 Z" fill="#fbbf1a" />
<path d="M810.60,400.00 L811.17,401.13 L811.73,402.26 L812.30,403.37 L812.87,404.46 L813.43,405.54 L814.00,406.59 L814.57,407.62 L815.13,408.63 L815.70,409.61 L816.27,410.55 L816.83,411.47 L817.40,412.35 L817.97,413.19 L818.53,413.99 L819.10,414.76 L819.67,415.49 L820.23,416.18 L820.80,416.82 L821.37,417.43 L821.93,417.99 L822.50,418.51 L823.07,418.98 L823.63,419.42 L824.20,419.81 L824.77,420.16 L825.33,420.47 L825.90,420.75 L826.47,420.98 L827.03,421.18 L827.60,421.34 L828.17,421.47 L828.73,421.56 L829.30,421.63 L829.87,421.67 L830.43,421.70 L831.00,421.70 L831.56,421.70 L832.11,421.67 L832.67,421.63 L833.22,421.56 L833.78,421.47 L834.33,421.34 L834.89,421.18 L835.44,420.98 L836.00,420.75 L836.56,420.47 L837.11,420.16 L837.67,419.81 L838.22,419.42 L838.78,418.98 L839.33,418.51 L839.89,417.99 L840.44,417.43 L841.00,416.82 L841.56,416.18 L842.11,415.49 L842.67,414.76 L843.22,413.99 L843.78,413.19 L844.33,412.35 L844.89,411.47 L845.44,410.55 L846.00,409.61 L846.56,408.63 L847.11,407.62 L847.67,406.59 L848.22,405.54 L848.78,404.46 L849.33,403.37 L849.89,402.26 L850.44,401.13 L851.00,400.00 Z" fill="url(#gCoralR)" />
<path d="M-15.50,342.50 C18.25,342.50 18.25,438.20 52.00,438.20 C90.25,438.20 90.25,363.60 128.50,363.60 C167.25,363.60 167.25,444.30 206.00,444.30 C245.50,444.30 245.50,344.10 285.00,344.10 C323.50,344.10 323.50,392.90 362.00,392.90 C388.00,392.90 388.00,355.40 414.00,355.40 C440.00,355.40 440.00,392.90 466.00,392.90 C504.50,392.90 504.50,344.10 543.00,344.10 C582.50,344.10 582.50,444.30 622.00,444.30 C660.75,444.30 660.75,363.60 699.50,363.60 C737.75,363.60 737.75,438.20 776.00,438.20 C809.75,438.20 809.75,342.50 843.50,342.50" fill="none" stroke="#dfe4ee" stroke-width="1.3"/>
<circle cx="16.8" cy="356.1" r="3.55" fill="none" stroke="#d02890" stroke-width="1.9"/>
<circle cx="156.7" cy="356.0" r="4.35" fill="none" stroke="#d02a88" stroke-width="1.9"/>
<circle cx="283.5" cy="375.6" r="3.35" fill="none" stroke="#9a5aa8" stroke-width="1.9"/>
<circle cx="462.0" cy="365.7" r="3.65" fill="none" stroke="#e88a80" stroke-width="1.9"/>
<circle cx="593.6" cy="346.0" r="3.45" fill="none" stroke="#c82888" stroke-width="1.9"/>
<circle cx="662.3" cy="365.7" r="4.65" fill="none" stroke="#7a88d8" stroke-width="1.9"/>
<circle cx="747.3" cy="356.3" r="4.65" fill="none" stroke="#a060b0" stroke-width="1.9"/>
<circle cx="91.3" cy="446.0" r="3.25" fill="none" stroke="#48d2c2" stroke-width="1.9"/>
<circle cx="140.1" cy="436.3" r="3.45" fill="none" stroke="#f08878" stroke-width="1.9"/>
<circle cx="306.2" cy="427.8" r="4.65" fill="none" stroke="#48c8c0" stroke-width="1.9"/>
<circle cx="506.5" cy="436.0" r="3.45" fill="none" stroke="#8a98e0" stroke-width="1.9"/>
<circle cx="684.4" cy="445.8" r="4.65" fill="none" stroke="#e8d060" stroke-width="1.9"/>
<circle cx="799.6" cy="450.6" r="3.45" fill="none" stroke="#9a62a8" stroke-width="1.9"/>
<circle cx="86.0" cy="356.0" r="3.00" fill="#9462b2"/>
<circle cx="378.3" cy="376.0" r="2.80" fill="#44e0d0"/>
<circle cx="446.3" cy="356.0" r="2.80" fill="#8494e2"/>
<circle cx="755.8" cy="344.7" r="3.00" fill="#f2d044"/>
<circle cx="19.8" cy="436.1" r="2.90" fill="#ea8080"/>
<circle cx="35.5" cy="451.0" r="2.90" fill="#f6c444"/>
<circle cx="243.5" cy="436.0" r="2.80" fill="#44e0c8"/>
<circle cx="261.0" cy="451.0" r="2.80" fill="#8a8ae6"/>
<circle cx="529.1" cy="419.1" r="2.90" fill="#eac444"/>
<circle cx="537.2" cy="435.8" r="2.80" fill="#44e0d0"/>
<circle cx="701.2" cy="427.8" r="2.80" fill="#f28a72"/>
<circle cx="810.8" cy="435.8" r="2.80" fill="#44e0c8"/></svg>
<div class="t b" style="left:410.2px;top:413.60px;font-size:13px;color:#fff">6</div>
</body></html>
